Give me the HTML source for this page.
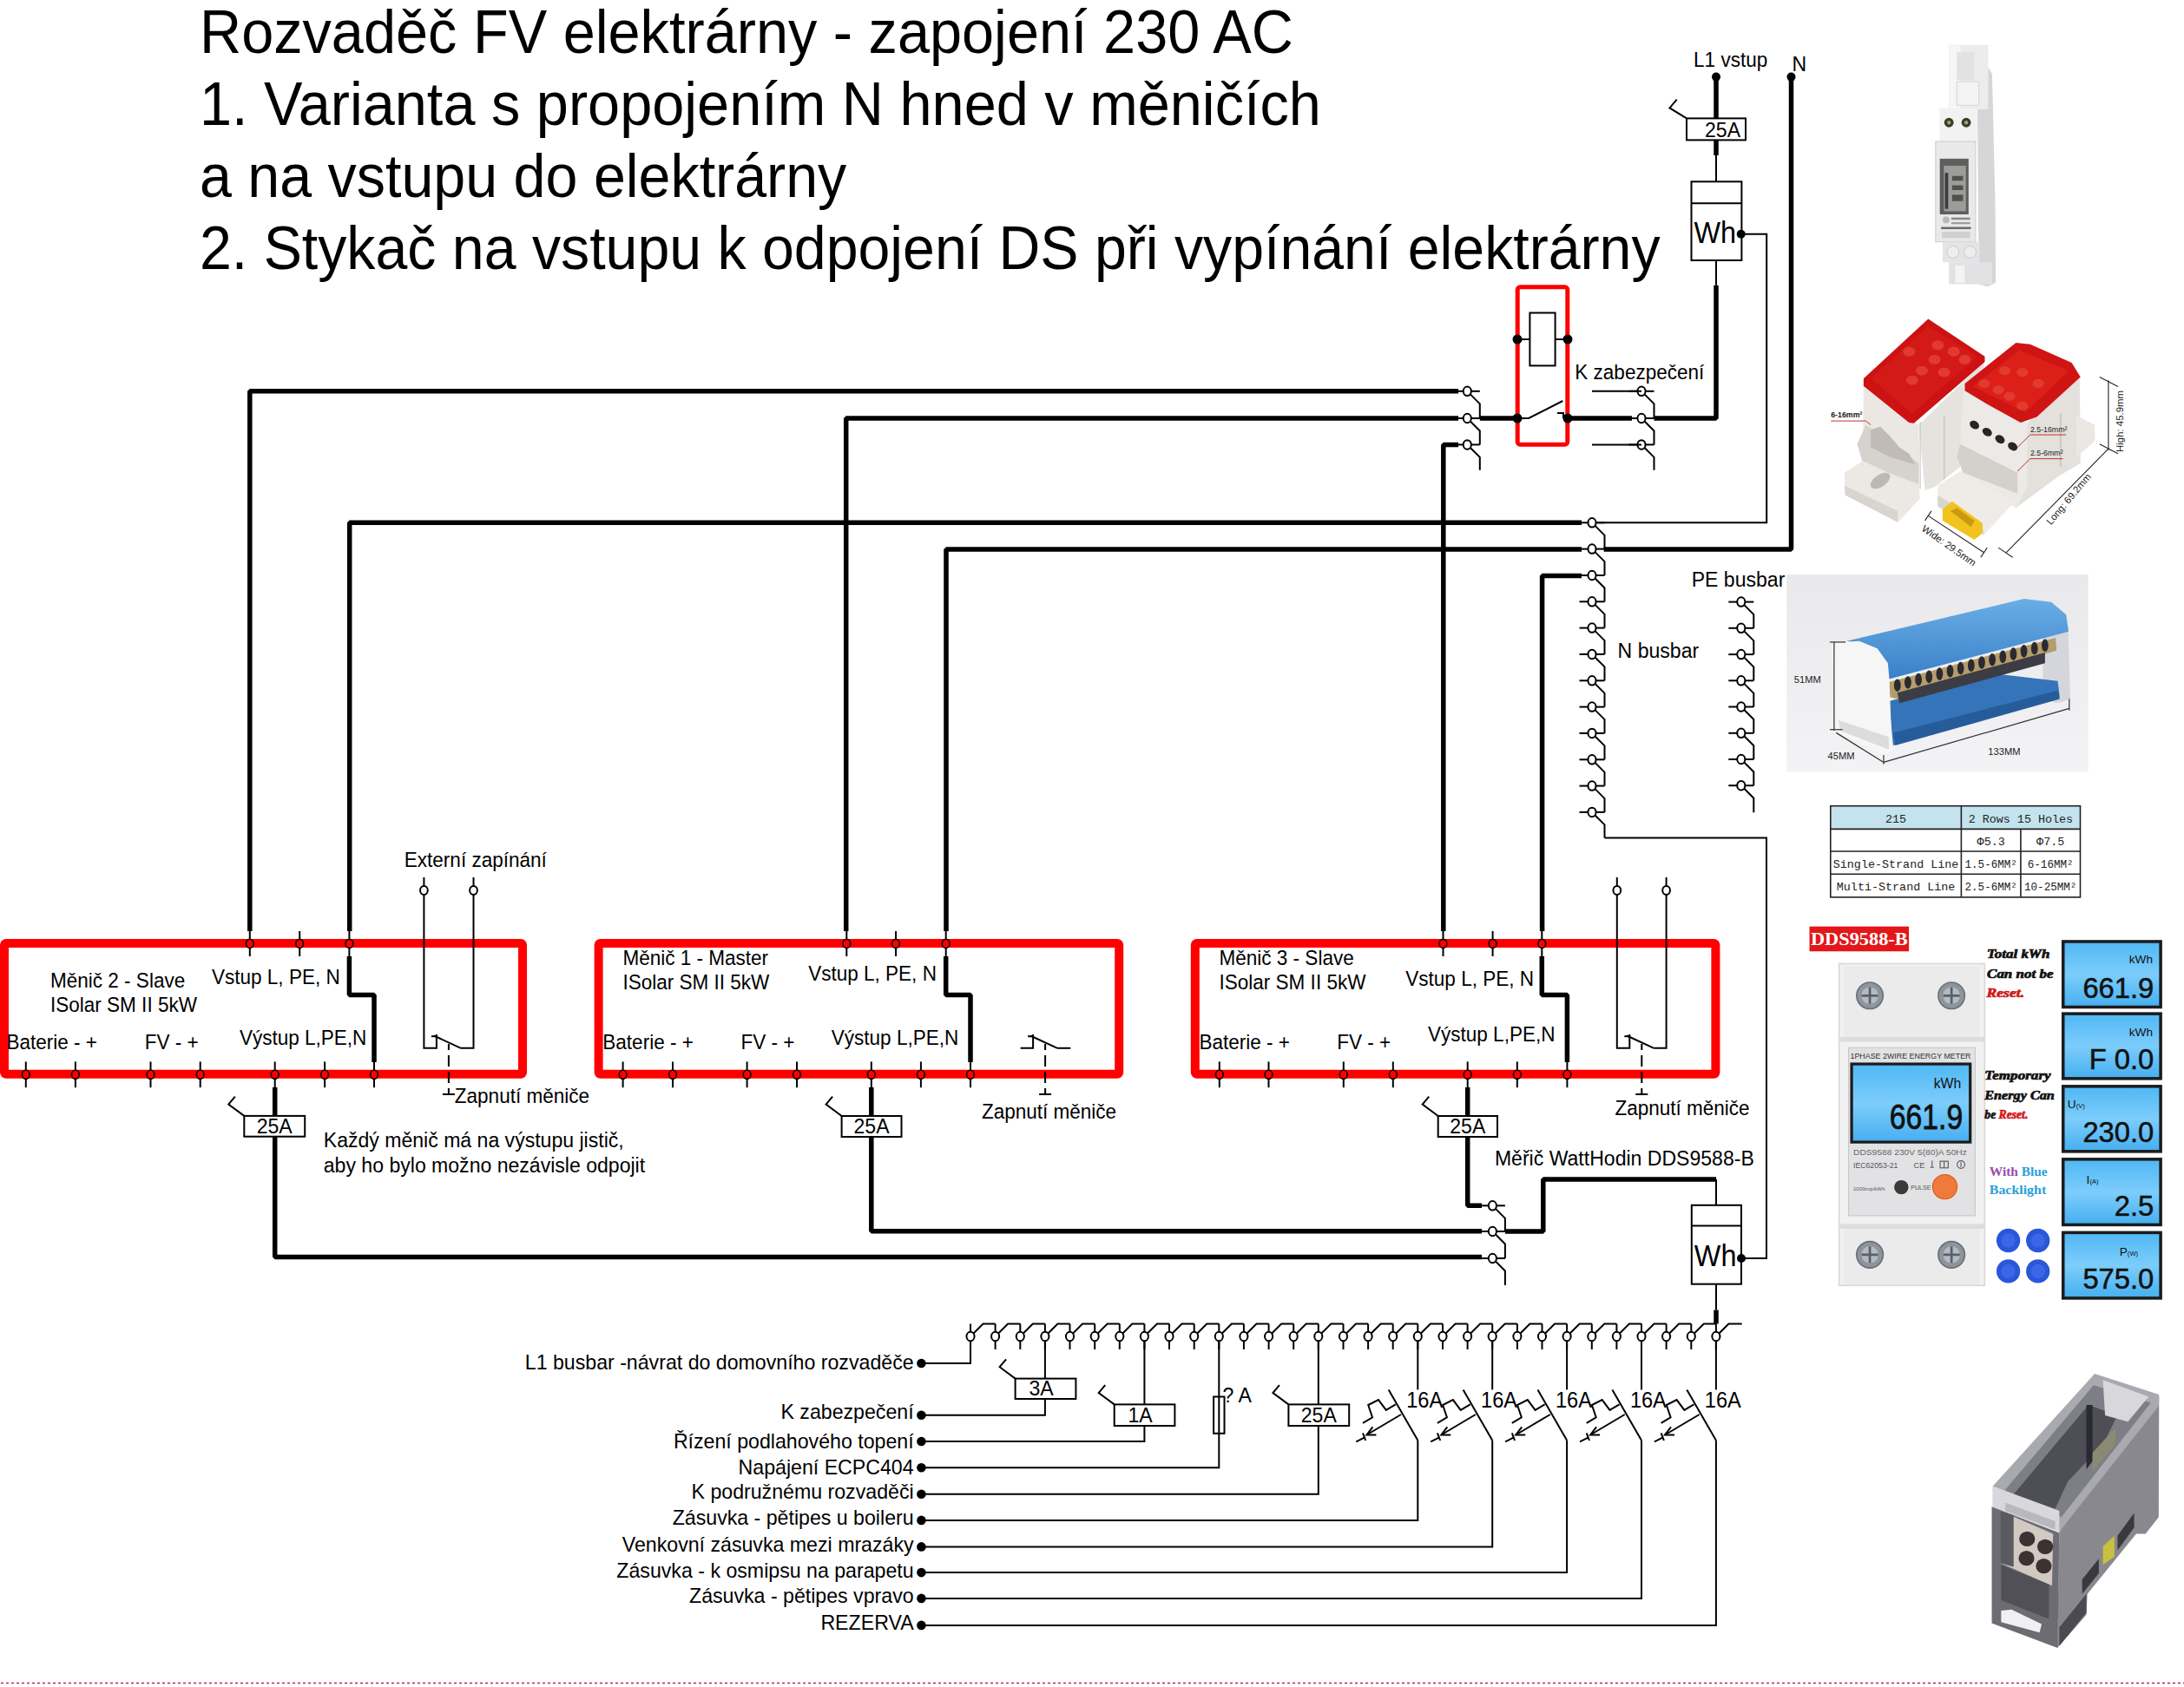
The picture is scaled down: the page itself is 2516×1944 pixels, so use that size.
<!DOCTYPE html>
<html><head><meta charset="utf-8">
<style>
html,body{margin:0;padding:0;background:#fff;width:2516px;height:1944px;overflow:hidden}
svg{display:block}
text{font-family:"Liberation Sans",sans-serif}
.ser{font-family:"Liberation Serif",serif}
.mono{font-family:"Liberation Mono",monospace}
</style></head><body>
<svg width="2516" height="1944" viewBox="0 0 2516 1944">
<rect width="2516" height="1944" fill="#fff"/>
<text transform="translate(230.0,60.9) scale(0.939,1)" font-size="71.00" text-anchor="start" class="s" >Rozvaděč FV elektrárny - zapojení 230 AC</text>
<text transform="translate(230.0,144.0) scale(0.939,1)" font-size="71.00" text-anchor="start" class="s" >1. Varianta s propojením N hned v měničích</text>
<text transform="translate(230.0,227.1) scale(0.935,1)" font-size="71.00" text-anchor="start" class="s" >a na vstupu do elektrárny</text>
<text transform="translate(230.0,310.0) scale(0.933,1)" font-size="71.00" text-anchor="start" class="s" >2. Stykač na vstupu k odpojení DS při vypínání elektrárny</text>
<polyline points="287.8,1073.0 287.8,450.8 1680.0,450.8" fill="none" stroke="#000" stroke-width="5.5" stroke-linejoin="bevel" stroke-linecap="butt"/>
<polyline points="974.7,1073.0 974.7,482.0 1680.0,482.0" fill="none" stroke="#000" stroke-width="5.5" stroke-linejoin="bevel" stroke-linecap="butt"/>
<polyline points="1662.8,1073.0 1662.8,512.4 1680.0,512.4" fill="none" stroke="#000" stroke-width="5.5" stroke-linejoin="bevel" stroke-linecap="butt"/>
<polyline points="402.7,1073.0 402.7,602.3 1822.0,602.3" fill="none" stroke="#000" stroke-width="5.5" stroke-linejoin="bevel" stroke-linecap="butt"/>
<polyline points="1090.0,1073.0 1090.0,633.0 1822.0,633.0" fill="none" stroke="#000" stroke-width="5.5" stroke-linejoin="bevel" stroke-linecap="butt"/>
<polyline points="1776.6,1073.0 1776.6,663.5 1822.0,663.5" fill="none" stroke="#000" stroke-width="5.5" stroke-linejoin="bevel" stroke-linecap="butt"/>
<polyline points="1704.8,482.0 1748.0,482.0" fill="none" stroke="#000" stroke-width="5.5" stroke-linejoin="bevel" stroke-linecap="butt"/>
<polyline points="1805.8,482.0 1880.0,482.0" fill="none" stroke="#000" stroke-width="5.5" stroke-linejoin="bevel" stroke-linecap="butt"/>
<polyline points="1905.5,482.0 1977.0,482.0 1977.0,328.8" fill="none" stroke="#000" stroke-width="5.5" stroke-linejoin="bevel" stroke-linecap="butt"/>
<polyline points="1977.0,88.6 1977.0,179.0" fill="none" stroke="#000" stroke-width="5.5" stroke-linejoin="bevel" stroke-linecap="butt"/>
<line x1="1977.0" y1="179.0" x2="1977.0" y2="209.3" stroke="#000" stroke-width="2.0" />
<line x1="1977.0" y1="300.0" x2="1977.0" y2="328.8" stroke="#000" stroke-width="2.0" />
<polyline points="2063.5,88.6 2063.5,633.0 1847.7,633.0" fill="none" stroke="#000" stroke-width="5.5" stroke-linejoin="bevel" stroke-linecap="butt"/>
<polyline points="2005.7,269.8 2035.2,269.8 2035.2,602.3 1838.0,602.3" fill="none" stroke="#000" stroke-width="2.0" stroke-linejoin="miter" />
<polyline points="1848.5,965.4 2035.0,965.4 2035.0,1450.0 2006.0,1450.0" fill="none" stroke="#000" stroke-width="2.0" stroke-linejoin="miter" />
<line x1="1675.8" y1="450.8" x2="1690.3" y2="450.8" stroke="#000" stroke-width="2.0" />
<line x1="1690.3" y1="450.8" x2="1704.8" y2="450.8" stroke="#000" stroke-width="2.0" />
<polyline points="1693.6,454.1 1704.8,465.3 1704.8,482.0" fill="none" stroke="#000" stroke-width="2.0" stroke-linejoin="miter" />
<line x1="1675.8" y1="482.0" x2="1690.3" y2="482.0" stroke="#000" stroke-width="2.0" />
<line x1="1690.3" y1="482.0" x2="1704.8" y2="482.0" stroke="#000" stroke-width="2.0" />
<polyline points="1693.6,485.3 1704.8,496.5 1704.8,512.4" fill="none" stroke="#000" stroke-width="2.0" stroke-linejoin="miter" />
<line x1="1675.8" y1="512.4" x2="1690.3" y2="512.4" stroke="#000" stroke-width="2.0" />
<line x1="1690.3" y1="512.4" x2="1704.8" y2="512.4" stroke="#000" stroke-width="2.0" />
<polyline points="1693.6,515.7 1704.8,526.9 1704.8,541.8" fill="none" stroke="#000" stroke-width="2.0" stroke-linejoin="miter" />
<ellipse cx="1690.3" cy="450.8" rx="4.56" ry="5.26" fill="#fff" stroke="#000" stroke-width="2.0"/>
<ellipse cx="1690.3" cy="482.0" rx="4.56" ry="5.26" fill="#fff" stroke="#000" stroke-width="2.0"/>
<ellipse cx="1690.3" cy="512.4" rx="4.56" ry="5.26" fill="#fff" stroke="#000" stroke-width="2.0"/>
<line x1="1876.5" y1="450.8" x2="1891.0" y2="450.8" stroke="#000" stroke-width="2.0" />
<line x1="1891.0" y1="450.8" x2="1905.5" y2="450.8" stroke="#000" stroke-width="2.0" />
<polyline points="1894.3,454.1 1905.5,465.3 1905.5,482.0" fill="none" stroke="#000" stroke-width="2.0" stroke-linejoin="miter" />
<line x1="1876.5" y1="482.0" x2="1891.0" y2="482.0" stroke="#000" stroke-width="2.0" />
<line x1="1891.0" y1="482.0" x2="1905.5" y2="482.0" stroke="#000" stroke-width="2.0" />
<polyline points="1894.3,485.3 1905.5,496.5 1905.5,512.4" fill="none" stroke="#000" stroke-width="2.0" stroke-linejoin="miter" />
<line x1="1876.5" y1="512.4" x2="1891.0" y2="512.4" stroke="#000" stroke-width="2.0" />
<line x1="1891.0" y1="512.4" x2="1905.5" y2="512.4" stroke="#000" stroke-width="2.0" />
<polyline points="1894.3,515.7 1905.5,526.9 1905.5,541.8" fill="none" stroke="#000" stroke-width="2.0" stroke-linejoin="miter" />
<ellipse cx="1891.0" cy="450.8" rx="4.56" ry="5.26" fill="#fff" stroke="#000" stroke-width="2.0"/>
<ellipse cx="1891.0" cy="482.0" rx="4.56" ry="5.26" fill="#fff" stroke="#000" stroke-width="2.0"/>
<ellipse cx="1891.0" cy="512.4" rx="4.56" ry="5.26" fill="#fff" stroke="#000" stroke-width="2.0"/>
<line x1="1819.5" y1="602.3" x2="1834.0" y2="602.3" stroke="#000" stroke-width="2.0" />
<line x1="1834.0" y1="602.3" x2="1848.5" y2="602.3" stroke="#000" stroke-width="2.0" />
<polyline points="1837.3,605.6 1848.5,616.8 1848.5,632.6" fill="none" stroke="#000" stroke-width="2.0" stroke-linejoin="miter" />
<line x1="1819.5" y1="632.6" x2="1834.0" y2="632.6" stroke="#000" stroke-width="2.0" />
<line x1="1834.0" y1="632.6" x2="1848.5" y2="632.6" stroke="#000" stroke-width="2.0" />
<polyline points="1837.3,635.9 1848.5,647.1 1848.5,663.0" fill="none" stroke="#000" stroke-width="2.0" stroke-linejoin="miter" />
<line x1="1819.5" y1="663.0" x2="1834.0" y2="663.0" stroke="#000" stroke-width="2.0" />
<line x1="1834.0" y1="663.0" x2="1848.5" y2="663.0" stroke="#000" stroke-width="2.0" />
<polyline points="1837.3,666.3 1848.5,677.5 1848.5,693.3" fill="none" stroke="#000" stroke-width="2.0" stroke-linejoin="miter" />
<line x1="1819.5" y1="693.3" x2="1834.0" y2="693.3" stroke="#000" stroke-width="2.0" />
<line x1="1834.0" y1="693.3" x2="1848.5" y2="693.3" stroke="#000" stroke-width="2.0" />
<polyline points="1837.3,696.6 1848.5,707.8 1848.5,723.6" fill="none" stroke="#000" stroke-width="2.0" stroke-linejoin="miter" />
<line x1="1819.5" y1="723.6" x2="1834.0" y2="723.6" stroke="#000" stroke-width="2.0" />
<line x1="1834.0" y1="723.6" x2="1848.5" y2="723.6" stroke="#000" stroke-width="2.0" />
<polyline points="1837.3,726.9 1848.5,738.1 1848.5,753.9" fill="none" stroke="#000" stroke-width="2.0" stroke-linejoin="miter" />
<line x1="1819.5" y1="753.9" x2="1834.0" y2="753.9" stroke="#000" stroke-width="2.0" />
<line x1="1834.0" y1="753.9" x2="1848.5" y2="753.9" stroke="#000" stroke-width="2.0" />
<polyline points="1837.3,757.2 1848.5,768.4 1848.5,784.3" fill="none" stroke="#000" stroke-width="2.0" stroke-linejoin="miter" />
<line x1="1819.5" y1="784.3" x2="1834.0" y2="784.3" stroke="#000" stroke-width="2.0" />
<line x1="1834.0" y1="784.3" x2="1848.5" y2="784.3" stroke="#000" stroke-width="2.0" />
<polyline points="1837.3,787.6 1848.5,798.8 1848.5,814.6" fill="none" stroke="#000" stroke-width="2.0" stroke-linejoin="miter" />
<line x1="1819.5" y1="814.6" x2="1834.0" y2="814.6" stroke="#000" stroke-width="2.0" />
<line x1="1834.0" y1="814.6" x2="1848.5" y2="814.6" stroke="#000" stroke-width="2.0" />
<polyline points="1837.3,817.9 1848.5,829.1 1848.5,844.9" fill="none" stroke="#000" stroke-width="2.0" stroke-linejoin="miter" />
<line x1="1819.5" y1="844.9" x2="1834.0" y2="844.9" stroke="#000" stroke-width="2.0" />
<line x1="1834.0" y1="844.9" x2="1848.5" y2="844.9" stroke="#000" stroke-width="2.0" />
<polyline points="1837.3,848.2 1848.5,859.4 1848.5,875.3" fill="none" stroke="#000" stroke-width="2.0" stroke-linejoin="miter" />
<line x1="1819.5" y1="875.3" x2="1834.0" y2="875.3" stroke="#000" stroke-width="2.0" />
<line x1="1834.0" y1="875.3" x2="1848.5" y2="875.3" stroke="#000" stroke-width="2.0" />
<polyline points="1837.3,878.6 1848.5,889.8 1848.5,905.6" fill="none" stroke="#000" stroke-width="2.0" stroke-linejoin="miter" />
<line x1="1819.5" y1="905.6" x2="1834.0" y2="905.6" stroke="#000" stroke-width="2.0" />
<line x1="1834.0" y1="905.6" x2="1848.5" y2="905.6" stroke="#000" stroke-width="2.0" />
<polyline points="1837.3,908.9 1848.5,920.1 1848.5,935.9" fill="none" stroke="#000" stroke-width="2.0" stroke-linejoin="miter" />
<line x1="1819.5" y1="935.9" x2="1834.0" y2="935.9" stroke="#000" stroke-width="2.0" />
<line x1="1834.0" y1="935.9" x2="1848.5" y2="935.9" stroke="#000" stroke-width="2.0" />
<polyline points="1837.3,939.2 1848.5,950.4 1848.5,965.4" fill="none" stroke="#000" stroke-width="2.0" stroke-linejoin="miter" />
<ellipse cx="1834.0" cy="602.3" rx="4.56" ry="5.26" fill="#fff" stroke="#000" stroke-width="2.0"/>
<ellipse cx="1834.0" cy="632.6" rx="4.56" ry="5.26" fill="#fff" stroke="#000" stroke-width="2.0"/>
<ellipse cx="1834.0" cy="663.0" rx="4.56" ry="5.26" fill="#fff" stroke="#000" stroke-width="2.0"/>
<ellipse cx="1834.0" cy="693.3" rx="4.56" ry="5.26" fill="#fff" stroke="#000" stroke-width="2.0"/>
<ellipse cx="1834.0" cy="723.6" rx="4.56" ry="5.26" fill="#fff" stroke="#000" stroke-width="2.0"/>
<ellipse cx="1834.0" cy="753.9" rx="4.56" ry="5.26" fill="#fff" stroke="#000" stroke-width="2.0"/>
<ellipse cx="1834.0" cy="784.3" rx="4.56" ry="5.26" fill="#fff" stroke="#000" stroke-width="2.0"/>
<ellipse cx="1834.0" cy="814.6" rx="4.56" ry="5.26" fill="#fff" stroke="#000" stroke-width="2.0"/>
<ellipse cx="1834.0" cy="844.9" rx="4.56" ry="5.26" fill="#fff" stroke="#000" stroke-width="2.0"/>
<ellipse cx="1834.0" cy="875.3" rx="4.56" ry="5.26" fill="#fff" stroke="#000" stroke-width="2.0"/>
<ellipse cx="1834.0" cy="905.6" rx="4.56" ry="5.26" fill="#fff" stroke="#000" stroke-width="2.0"/>
<ellipse cx="1834.0" cy="935.9" rx="4.56" ry="5.26" fill="#fff" stroke="#000" stroke-width="2.0"/>
<line x1="1991.3" y1="693.6" x2="2005.8" y2="693.6" stroke="#000" stroke-width="2.0" />
<line x1="2005.8" y1="693.6" x2="2020.3" y2="693.6" stroke="#000" stroke-width="2.0" />
<polyline points="2009.1,696.9 2020.3,708.1 2020.3,723.8" fill="none" stroke="#000" stroke-width="2.0" stroke-linejoin="miter" />
<line x1="1991.3" y1="723.8" x2="2005.8" y2="723.8" stroke="#000" stroke-width="2.0" />
<line x1="2005.8" y1="723.8" x2="2020.3" y2="723.8" stroke="#000" stroke-width="2.0" />
<polyline points="2009.1,727.1 2020.3,738.3 2020.3,754.1" fill="none" stroke="#000" stroke-width="2.0" stroke-linejoin="miter" />
<line x1="1991.3" y1="754.1" x2="2005.8" y2="754.1" stroke="#000" stroke-width="2.0" />
<line x1="2005.8" y1="754.1" x2="2020.3" y2="754.1" stroke="#000" stroke-width="2.0" />
<polyline points="2009.1,757.4 2020.3,768.6 2020.3,784.3" fill="none" stroke="#000" stroke-width="2.0" stroke-linejoin="miter" />
<line x1="1991.3" y1="784.3" x2="2005.8" y2="784.3" stroke="#000" stroke-width="2.0" />
<line x1="2005.8" y1="784.3" x2="2020.3" y2="784.3" stroke="#000" stroke-width="2.0" />
<polyline points="2009.1,787.6 2020.3,798.8 2020.3,814.5" fill="none" stroke="#000" stroke-width="2.0" stroke-linejoin="miter" />
<line x1="1991.3" y1="814.5" x2="2005.8" y2="814.5" stroke="#000" stroke-width="2.0" />
<line x1="2005.8" y1="814.5" x2="2020.3" y2="814.5" stroke="#000" stroke-width="2.0" />
<polyline points="2009.1,817.8 2020.3,829.0 2020.3,844.8" fill="none" stroke="#000" stroke-width="2.0" stroke-linejoin="miter" />
<line x1="1991.3" y1="844.8" x2="2005.8" y2="844.8" stroke="#000" stroke-width="2.0" />
<line x1="2005.8" y1="844.8" x2="2020.3" y2="844.8" stroke="#000" stroke-width="2.0" />
<polyline points="2009.1,848.0 2020.3,859.2 2020.3,875.0" fill="none" stroke="#000" stroke-width="2.0" stroke-linejoin="miter" />
<line x1="1991.3" y1="875.0" x2="2005.8" y2="875.0" stroke="#000" stroke-width="2.0" />
<line x1="2005.8" y1="875.0" x2="2020.3" y2="875.0" stroke="#000" stroke-width="2.0" />
<polyline points="2009.1,878.3 2020.3,889.5 2020.3,905.2" fill="none" stroke="#000" stroke-width="2.0" stroke-linejoin="miter" />
<line x1="1991.3" y1="905.2" x2="2005.8" y2="905.2" stroke="#000" stroke-width="2.0" />
<line x1="2005.8" y1="905.2" x2="2020.3" y2="905.2" stroke="#000" stroke-width="2.0" />
<polyline points="2009.1,908.5 2020.3,919.7 2020.3,936.3" fill="none" stroke="#000" stroke-width="2.0" stroke-linejoin="miter" />
<ellipse cx="2005.8" cy="693.6" rx="4.56" ry="5.26" fill="#fff" stroke="#000" stroke-width="2.0"/>
<ellipse cx="2005.8" cy="723.8" rx="4.56" ry="5.26" fill="#fff" stroke="#000" stroke-width="2.0"/>
<ellipse cx="2005.8" cy="754.1" rx="4.56" ry="5.26" fill="#fff" stroke="#000" stroke-width="2.0"/>
<ellipse cx="2005.8" cy="784.3" rx="4.56" ry="5.26" fill="#fff" stroke="#000" stroke-width="2.0"/>
<ellipse cx="2005.8" cy="814.5" rx="4.56" ry="5.26" fill="#fff" stroke="#000" stroke-width="2.0"/>
<ellipse cx="2005.8" cy="844.8" rx="4.56" ry="5.26" fill="#fff" stroke="#000" stroke-width="2.0"/>
<ellipse cx="2005.8" cy="875.0" rx="4.56" ry="5.26" fill="#fff" stroke="#000" stroke-width="2.0"/>
<ellipse cx="2005.8" cy="905.2" rx="4.56" ry="5.26" fill="#fff" stroke="#000" stroke-width="2.0"/>
<text transform="translate(1951.1,76.6) scale(0.94,1)" font-size="23.97" text-anchor="start" class="s" >L1 vstup</text>
<text transform="translate(2064.5,82.2) scale(0.94,1)" font-size="24.53" text-anchor="start" class="s" >N</text>
<circle cx="1977.0" cy="88.6" r="5" fill="#000"/>
<circle cx="2063.5" cy="88.6" r="5" fill="#000"/>
<rect x="1943.0" y="136.4" width="68.0" height="25.0" stroke="#000" stroke-width="2.0" fill="#fff" />
<text transform="translate(1984.5,157.5) scale(0.94,1)" font-size="24.53" text-anchor="middle" class="s" >25A</text>
<polyline points="1943.0,136.4 1923.5,124.4 1931.7,114.7" fill="none" stroke="#000" stroke-width="2.0" stroke-linejoin="miter" />
<rect x="1948.5" y="209.3" width="57.9" height="90.7" stroke="#000" stroke-width="2.0" fill="#fff" />
<line x1="1948.5" y1="234.3" x2="2006.4" y2="234.3" stroke="#000" stroke-width="2.0" />
<text transform="translate(1951.5,279.5) scale(0.94,1)" font-size="34.50" text-anchor="start" class="s" >Wh</text>
<circle cx="2005.7" cy="269.8" r="5" fill="#000"/>
<rect x="1748.2" y="330.8" width="57.6" height="181.4" stroke="#ff0000" stroke-width="5" fill="none" rx="3"/>
<rect x="1762.4" y="360.5" width="29.2" height="60.9" stroke="#000" stroke-width="2.0" fill="none" />
<line x1="1748.0" y1="391.0" x2="1762.4" y2="391.0" stroke="#000" stroke-width="2.0" />
<line x1="1791.6" y1="391.0" x2="1806.0" y2="391.0" stroke="#000" stroke-width="2.0" />
<circle cx="1748.0" cy="391.0" r="5.5" fill="#000"/>
<circle cx="1806.0" cy="391.0" r="5.5" fill="#000"/>
<polyline points="1748.0,482.0 1761.0,482.0 1800.3,462.0" fill="none" stroke="#000" stroke-width="2.0" stroke-linejoin="miter" />
<polyline points="1794.0,476.0 1801.0,476.0 1801.0,482.0" fill="none" stroke="#000" stroke-width="2.0" stroke-linejoin="miter" />
<circle cx="1748.0" cy="482.0" r="5.5" fill="#000"/>
<circle cx="1806.0" cy="482.0" r="5.5" fill="#000"/>
<text transform="translate(1814.3,437.2) scale(0.94,1)" font-size="23.97" text-anchor="start" class="s" >K zabezpečení</text>
<line x1="1834.0" y1="450.8" x2="1891.0" y2="450.8" stroke="#000" stroke-width="2.0" />
<line x1="1834.0" y1="512.4" x2="1891.0" y2="512.4" stroke="#000" stroke-width="2.0" />
<text transform="translate(1948.7,675.9) scale(0.94,1)" font-size="24.53" text-anchor="start" class="s" >PE busbar</text>
<text transform="translate(1863.6,758.3) scale(0.94,1)" font-size="24.53" text-anchor="start" class="s" >N busbar</text>
<rect x="5.0" y="1087.0" width="597.0" height="150.8" stroke="#ff0000" stroke-width="10" fill="none" rx="2"/>
<polyline points="402.4,1102.0 402.4,1146.5 431.0,1146.5 431.0,1224.0" fill="none" stroke="#000" stroke-width="5.5" stroke-linejoin="bevel" stroke-linecap="butt"/>
<line x1="287.8" y1="1073.0" x2="287.8" y2="1102.0" stroke="#000" stroke-width="2.0" />
<ellipse cx="287.8" cy="1087.4" rx="4.37" ry="5.04" fill="#ff0000" stroke="#000" stroke-width="1.6"/>
<line x1="345.2" y1="1073.0" x2="345.2" y2="1102.0" stroke="#000" stroke-width="2.0" />
<ellipse cx="345.2" cy="1087.4" rx="4.37" ry="5.04" fill="#ff0000" stroke="#000" stroke-width="1.6"/>
<line x1="402.4" y1="1073.0" x2="402.4" y2="1102.0" stroke="#000" stroke-width="2.0" />
<ellipse cx="402.4" cy="1087.4" rx="4.37" ry="5.04" fill="#ff0000" stroke="#000" stroke-width="1.6"/>
<line x1="29.8" y1="1223.4" x2="29.8" y2="1253.2" stroke="#000" stroke-width="2.0" />
<ellipse cx="29.8" cy="1238.3" rx="4.37" ry="5.04" fill="#ff0000" stroke="#000" stroke-width="1.6"/>
<line x1="86.9" y1="1223.4" x2="86.9" y2="1253.2" stroke="#000" stroke-width="2.0" />
<ellipse cx="86.9" cy="1238.3" rx="4.37" ry="5.04" fill="#ff0000" stroke="#000" stroke-width="1.6"/>
<line x1="173.5" y1="1223.4" x2="173.5" y2="1253.2" stroke="#000" stroke-width="2.0" />
<ellipse cx="173.5" cy="1238.3" rx="4.37" ry="5.04" fill="#ff0000" stroke="#000" stroke-width="1.6"/>
<line x1="230.7" y1="1223.4" x2="230.7" y2="1253.2" stroke="#000" stroke-width="2.0" />
<ellipse cx="230.7" cy="1238.3" rx="4.37" ry="5.04" fill="#ff0000" stroke="#000" stroke-width="1.6"/>
<line x1="316.7" y1="1223.4" x2="316.7" y2="1253.2" stroke="#000" stroke-width="2.0" />
<ellipse cx="316.7" cy="1238.3" rx="4.37" ry="5.04" fill="#ff0000" stroke="#000" stroke-width="1.6"/>
<line x1="374.1" y1="1223.4" x2="374.1" y2="1253.2" stroke="#000" stroke-width="2.0" />
<ellipse cx="374.1" cy="1238.3" rx="4.37" ry="5.04" fill="#ff0000" stroke="#000" stroke-width="1.6"/>
<line x1="431.0" y1="1223.4" x2="431.0" y2="1253.2" stroke="#000" stroke-width="2.0" />
<ellipse cx="431.0" cy="1238.3" rx="4.37" ry="5.04" fill="#ff0000" stroke="#000" stroke-width="1.6"/>
<text transform="translate(58.0,1137.7) scale(0.94,1)" font-size="23.97" text-anchor="start" class="s" >Měnič 2 - Slave</text>
<text transform="translate(58.0,1166.3) scale(0.94,1)" font-size="23.97" text-anchor="start" class="s" >ISolar SM II 5kW</text>
<text transform="translate(244.0,1134.1) scale(0.94,1)" font-size="23.97" text-anchor="start" class="s" >Vstup L, PE, N</text>
<text transform="translate(7.4,1209.4) scale(0.94,1)" font-size="23.97" text-anchor="start" class="s" >Baterie - +</text>
<text transform="translate(166.7,1209.4) scale(0.94,1)" font-size="23.97" text-anchor="start" class="s" >FV - +</text>
<text transform="translate(275.9,1203.5) scale(0.94,1)" font-size="23.97" text-anchor="start" class="s" >Výstup L,PE,N</text>
<rect x="689.6" y="1087.0" width="599.6" height="150.8" stroke="#ff0000" stroke-width="10" fill="none" rx="2"/>
<polyline points="1089.7,1102.0 1089.7,1146.5 1118.0,1146.5 1118.0,1224.0" fill="none" stroke="#000" stroke-width="5.5" stroke-linejoin="bevel" stroke-linecap="butt"/>
<line x1="975.3" y1="1073.0" x2="975.3" y2="1102.0" stroke="#000" stroke-width="2.0" />
<ellipse cx="975.3" cy="1087.4" rx="4.37" ry="5.04" fill="#ff0000" stroke="#000" stroke-width="1.6"/>
<line x1="1032.0" y1="1073.0" x2="1032.0" y2="1102.0" stroke="#000" stroke-width="2.0" />
<ellipse cx="1032.0" cy="1087.4" rx="4.37" ry="5.04" fill="#ff0000" stroke="#000" stroke-width="1.6"/>
<line x1="1089.7" y1="1073.0" x2="1089.7" y2="1102.0" stroke="#000" stroke-width="2.0" />
<ellipse cx="1089.7" cy="1087.4" rx="4.37" ry="5.04" fill="#ff0000" stroke="#000" stroke-width="1.6"/>
<line x1="717.6" y1="1223.4" x2="717.6" y2="1253.2" stroke="#000" stroke-width="2.0" />
<ellipse cx="717.6" cy="1238.3" rx="4.37" ry="5.04" fill="#ff0000" stroke="#000" stroke-width="1.6"/>
<line x1="775.0" y1="1223.4" x2="775.0" y2="1253.2" stroke="#000" stroke-width="2.0" />
<ellipse cx="775.0" cy="1238.3" rx="4.37" ry="5.04" fill="#ff0000" stroke="#000" stroke-width="1.6"/>
<line x1="860.6" y1="1223.4" x2="860.6" y2="1253.2" stroke="#000" stroke-width="2.0" />
<ellipse cx="860.6" cy="1238.3" rx="4.37" ry="5.04" fill="#ff0000" stroke="#000" stroke-width="1.6"/>
<line x1="918.0" y1="1223.4" x2="918.0" y2="1253.2" stroke="#000" stroke-width="2.0" />
<ellipse cx="918.0" cy="1238.3" rx="4.37" ry="5.04" fill="#ff0000" stroke="#000" stroke-width="1.6"/>
<line x1="1003.8" y1="1223.4" x2="1003.8" y2="1253.2" stroke="#000" stroke-width="2.0" />
<ellipse cx="1003.8" cy="1238.3" rx="4.37" ry="5.04" fill="#ff0000" stroke="#000" stroke-width="1.6"/>
<line x1="1060.9" y1="1223.4" x2="1060.9" y2="1253.2" stroke="#000" stroke-width="2.0" />
<ellipse cx="1060.9" cy="1238.3" rx="4.37" ry="5.04" fill="#ff0000" stroke="#000" stroke-width="1.6"/>
<line x1="1118.0" y1="1223.4" x2="1118.0" y2="1253.2" stroke="#000" stroke-width="2.0" />
<ellipse cx="1118.0" cy="1238.3" rx="4.37" ry="5.04" fill="#ff0000" stroke="#000" stroke-width="1.6"/>
<text transform="translate(717.4,1111.6) scale(0.94,1)" font-size="23.97" text-anchor="start" class="s" >Měnič 1 - Master</text>
<text transform="translate(717.4,1140.4) scale(0.94,1)" font-size="23.97" text-anchor="start" class="s" >ISolar SM II 5kW</text>
<text transform="translate(931.2,1129.9) scale(0.94,1)" font-size="23.97" text-anchor="start" class="s" >Vstup L, PE, N</text>
<text transform="translate(694.3,1209.4) scale(0.94,1)" font-size="23.97" text-anchor="start" class="s" >Baterie - +</text>
<text transform="translate(853.5,1209.4) scale(0.94,1)" font-size="23.97" text-anchor="start" class="s" >FV - +</text>
<text transform="translate(957.8,1203.6) scale(0.94,1)" font-size="23.97" text-anchor="start" class="s" >Výstup L,PE,N</text>
<rect x="1376.8" y="1087.0" width="599.6" height="150.8" stroke="#ff0000" stroke-width="10" fill="none" rx="2"/>
<polyline points="1776.3,1102.0 1776.3,1146.5 1805.4,1146.5 1805.4,1224.0" fill="none" stroke="#000" stroke-width="5.5" stroke-linejoin="bevel" stroke-linecap="butt"/>
<line x1="1662.5" y1="1073.0" x2="1662.5" y2="1102.0" stroke="#000" stroke-width="2.0" />
<ellipse cx="1662.5" cy="1087.4" rx="4.37" ry="5.04" fill="#ff0000" stroke="#000" stroke-width="1.6"/>
<line x1="1719.6" y1="1073.0" x2="1719.6" y2="1102.0" stroke="#000" stroke-width="2.0" />
<ellipse cx="1719.6" cy="1087.4" rx="4.37" ry="5.04" fill="#ff0000" stroke="#000" stroke-width="1.6"/>
<line x1="1776.3" y1="1073.0" x2="1776.3" y2="1102.0" stroke="#000" stroke-width="2.0" />
<ellipse cx="1776.3" cy="1087.4" rx="4.37" ry="5.04" fill="#ff0000" stroke="#000" stroke-width="1.6"/>
<line x1="1404.8" y1="1223.4" x2="1404.8" y2="1253.2" stroke="#000" stroke-width="2.0" />
<ellipse cx="1404.8" cy="1238.3" rx="4.37" ry="5.04" fill="#ff0000" stroke="#000" stroke-width="1.6"/>
<line x1="1461.5" y1="1223.4" x2="1461.5" y2="1253.2" stroke="#000" stroke-width="2.0" />
<ellipse cx="1461.5" cy="1238.3" rx="4.37" ry="5.04" fill="#ff0000" stroke="#000" stroke-width="1.6"/>
<line x1="1547.8" y1="1223.4" x2="1547.8" y2="1253.2" stroke="#000" stroke-width="2.0" />
<ellipse cx="1547.8" cy="1238.3" rx="4.37" ry="5.04" fill="#ff0000" stroke="#000" stroke-width="1.6"/>
<line x1="1604.8" y1="1223.4" x2="1604.8" y2="1253.2" stroke="#000" stroke-width="2.0" />
<ellipse cx="1604.8" cy="1238.3" rx="4.37" ry="5.04" fill="#ff0000" stroke="#000" stroke-width="1.6"/>
<line x1="1690.7" y1="1223.4" x2="1690.7" y2="1253.2" stroke="#000" stroke-width="2.0" />
<ellipse cx="1690.7" cy="1238.3" rx="4.37" ry="5.04" fill="#ff0000" stroke="#000" stroke-width="1.6"/>
<line x1="1747.8" y1="1223.4" x2="1747.8" y2="1253.2" stroke="#000" stroke-width="2.0" />
<ellipse cx="1747.8" cy="1238.3" rx="4.37" ry="5.04" fill="#ff0000" stroke="#000" stroke-width="1.6"/>
<line x1="1805.4" y1="1223.4" x2="1805.4" y2="1253.2" stroke="#000" stroke-width="2.0" />
<ellipse cx="1805.4" cy="1238.3" rx="4.37" ry="5.04" fill="#ff0000" stroke="#000" stroke-width="1.6"/>
<text transform="translate(1404.5,1111.6) scale(0.94,1)" font-size="23.97" text-anchor="start" class="s" >Měnič 3 - Slave</text>
<text transform="translate(1404.5,1140.4) scale(0.94,1)" font-size="23.97" text-anchor="start" class="s" >ISolar SM II 5kW</text>
<text transform="translate(1619.3,1135.6) scale(0.94,1)" font-size="23.97" text-anchor="start" class="s" >Vstup L, PE, N</text>
<text transform="translate(1381.5,1209.4) scale(0.94,1)" font-size="23.97" text-anchor="start" class="s" >Baterie - +</text>
<text transform="translate(1540.2,1209.4) scale(0.94,1)" font-size="23.97" text-anchor="start" class="s" >FV - +</text>
<text transform="translate(1645.0,1200.4) scale(0.94,1)" font-size="23.97" text-anchor="start" class="s" >Výstup L,PE,N</text>
<line x1="488.4" y1="1011.0" x2="488.4" y2="1021.0" stroke="#000" stroke-width="2.0" />
<line x1="545.5" y1="1011.0" x2="545.5" y2="1021.0" stroke="#000" stroke-width="2.0" />
<polyline points="488.4,1030.5 488.4,1207.8 502.9,1207.8 502.9,1195.0" fill="none" stroke="#000" stroke-width="2.0" stroke-linejoin="miter" />
<polyline points="530.9,1207.8 545.5,1207.8 545.5,1030.5" fill="none" stroke="#000" stroke-width="2.0" stroke-linejoin="miter" />
<ellipse cx="488.4" cy="1026.0" rx="4.37" ry="5.04" fill="#fff" stroke="#000" stroke-width="2.0"/>
<ellipse cx="545.5" cy="1026.0" rx="4.37" ry="5.04" fill="#fff" stroke="#000" stroke-width="2.0"/>
<line x1="499.9" y1="1193.5" x2="530.9" y2="1207.8" stroke="#000" stroke-width="2.0" />
<line x1="496.9" y1="1194.2" x2="502.9" y2="1194.2" stroke="#000" stroke-width="2.0" />
<line x1="502.9" y1="1192.0" x2="502.9" y2="1196.0" stroke="#000" stroke-width="2.0" />
<line x1="516.9" y1="1203.0" x2="516.9" y2="1261.0" stroke="#000" stroke-width="2.0" stroke-dasharray="7,6,13,6,13,6"/>
<line x1="509.9" y1="1261.0" x2="523.9" y2="1261.0" stroke="#000" stroke-width="2.0" />
<polyline points="1175.6,1207.8 1190.1,1207.8 1190.1,1195.0" fill="none" stroke="#000" stroke-width="2.0" stroke-linejoin="miter" />
<polyline points="1218.1,1207.8 1233.3,1207.8" fill="none" stroke="#000" stroke-width="2.0" stroke-linejoin="miter" />
<line x1="1187.1" y1="1193.5" x2="1218.1" y2="1207.8" stroke="#000" stroke-width="2.0" />
<line x1="1184.1" y1="1194.2" x2="1190.1" y2="1194.2" stroke="#000" stroke-width="2.0" />
<line x1="1190.1" y1="1192.0" x2="1190.1" y2="1196.0" stroke="#000" stroke-width="2.0" />
<line x1="1204.1" y1="1203.0" x2="1204.1" y2="1261.0" stroke="#000" stroke-width="2.0" stroke-dasharray="7,6,13,6,13,6"/>
<line x1="1197.1" y1="1261.0" x2="1211.1" y2="1261.0" stroke="#000" stroke-width="2.0" />
<line x1="1862.8" y1="1011.0" x2="1862.8" y2="1021.0" stroke="#000" stroke-width="2.0" />
<line x1="1919.6" y1="1011.0" x2="1919.6" y2="1021.0" stroke="#000" stroke-width="2.0" />
<polyline points="1862.8,1030.5 1862.8,1207.8 1877.3,1207.8 1877.3,1195.0" fill="none" stroke="#000" stroke-width="2.0" stroke-linejoin="miter" />
<polyline points="1905.3,1207.8 1919.6,1207.8 1919.6,1030.5" fill="none" stroke="#000" stroke-width="2.0" stroke-linejoin="miter" />
<ellipse cx="1862.8" cy="1026.0" rx="4.37" ry="5.04" fill="#fff" stroke="#000" stroke-width="2.0"/>
<ellipse cx="1919.6" cy="1026.0" rx="4.37" ry="5.04" fill="#fff" stroke="#000" stroke-width="2.0"/>
<line x1="1874.3" y1="1193.5" x2="1905.3" y2="1207.8" stroke="#000" stroke-width="2.0" />
<line x1="1871.3" y1="1194.2" x2="1877.3" y2="1194.2" stroke="#000" stroke-width="2.0" />
<line x1="1877.3" y1="1192.0" x2="1877.3" y2="1196.0" stroke="#000" stroke-width="2.0" />
<line x1="1891.3" y1="1203.0" x2="1891.3" y2="1261.0" stroke="#000" stroke-width="2.0" stroke-dasharray="7,6,13,6,13,6"/>
<line x1="1884.3" y1="1261.0" x2="1898.3" y2="1261.0" stroke="#000" stroke-width="2.0" />
<text transform="translate(465.8,998.7) scale(0.94,1)" font-size="23.97" text-anchor="start" class="s" >Externí zapínání</text>
<text transform="translate(523.8,1271.0) scale(0.94,1)" font-size="23.97" text-anchor="start" class="s" >Zapnutí měniče</text>
<text transform="translate(1130.9,1288.5) scale(0.94,1)" font-size="23.97" text-anchor="start" class="s" >Zapnutí měniče</text>
<text transform="translate(1860.4,1285.3) scale(0.94,1)" font-size="23.97" text-anchor="start" class="s" >Zapnutí měniče</text>
<polyline points="316.7,1253.0 316.7,1286.0" fill="none" stroke="#000" stroke-width="5.5" stroke-linejoin="bevel" stroke-linecap="butt"/>
<polyline points="316.7,1310.0 316.7,1448.4 1707.0,1448.4" fill="none" stroke="#000" stroke-width="5.5" stroke-linejoin="bevel" stroke-linecap="butt"/>
<polyline points="1003.8,1253.0 1003.8,1286.0" fill="none" stroke="#000" stroke-width="5.5" stroke-linejoin="bevel" stroke-linecap="butt"/>
<polyline points="1003.8,1310.0 1003.8,1418.8 1707.0,1418.8" fill="none" stroke="#000" stroke-width="5.5" stroke-linejoin="bevel" stroke-linecap="butt"/>
<polyline points="1690.7,1253.0 1690.7,1286.0" fill="none" stroke="#000" stroke-width="5.5" stroke-linejoin="bevel" stroke-linecap="butt"/>
<polyline points="1690.7,1310.0 1690.7,1389.3 1707.0,1389.3" fill="none" stroke="#000" stroke-width="5.5" stroke-linejoin="bevel" stroke-linecap="butt"/>
<rect x="281.3" y="1285.9" width="69.9" height="23.8" stroke="#000" stroke-width="2.0" fill="#fff" />
<polyline points="281.3,1285.9 263.3,1272.5 270.8,1263.6" fill="none" stroke="#000" stroke-width="2.0" stroke-linejoin="miter" />
<text transform="translate(316.2,1305.7) scale(0.94,1)" font-size="24.53" text-anchor="middle" class="s" >25A</text>
<rect x="969.6" y="1286.0" width="68.9" height="24.0" stroke="#000" stroke-width="2.0" fill="#fff" />
<polyline points="969.6,1286.0 951.6,1272.6 959.1,1263.7" fill="none" stroke="#000" stroke-width="2.0" stroke-linejoin="miter" />
<text transform="translate(1004.0,1306.0) scale(0.94,1)" font-size="24.53" text-anchor="middle" class="s" >25A</text>
<rect x="1656.7" y="1286.0" width="68.3" height="24.0" stroke="#000" stroke-width="2.0" fill="#fff" />
<polyline points="1656.7,1286.0 1638.7,1272.6 1646.2,1263.7" fill="none" stroke="#000" stroke-width="2.0" stroke-linejoin="miter" />
<text transform="translate(1690.8,1306.0) scale(0.94,1)" font-size="24.53" text-anchor="middle" class="s" >25A</text>
<text transform="translate(372.8,1322.3) scale(0.94,1)" font-size="24.53" text-anchor="start" class="s" >Každý měnič má na výstupu jistič,</text>
<text transform="translate(372.8,1350.8) scale(0.94,1)" font-size="24.53" text-anchor="start" class="s" >aby ho bylo možno nezávisle odpojit</text>
<text transform="translate(1721.9,1343.0) scale(0.94,1)" font-size="24.53" text-anchor="start" class="s" >Měřič WattHodin DDS9588-B</text>
<line x1="1704.9" y1="1389.3" x2="1719.4" y2="1389.3" stroke="#000" stroke-width="2.0" />
<line x1="1719.4" y1="1389.3" x2="1733.9" y2="1389.3" stroke="#000" stroke-width="2.0" />
<polyline points="1722.7,1392.6 1733.9,1403.8 1733.9,1419.0" fill="none" stroke="#000" stroke-width="2.0" stroke-linejoin="miter" />
<line x1="1704.9" y1="1419.0" x2="1719.4" y2="1419.0" stroke="#000" stroke-width="2.0" />
<line x1="1719.4" y1="1419.0" x2="1733.9" y2="1419.0" stroke="#000" stroke-width="2.0" />
<polyline points="1722.7,1422.3 1733.9,1433.5 1733.9,1450.0" fill="none" stroke="#000" stroke-width="2.0" stroke-linejoin="miter" />
<line x1="1704.9" y1="1450.0" x2="1719.4" y2="1450.0" stroke="#000" stroke-width="2.0" />
<line x1="1719.4" y1="1450.0" x2="1733.9" y2="1450.0" stroke="#000" stroke-width="2.0" />
<polyline points="1722.7,1453.3 1733.9,1464.5 1733.9,1480.9" fill="none" stroke="#000" stroke-width="2.0" stroke-linejoin="miter" />
<ellipse cx="1719.4" cy="1389.3" rx="4.56" ry="5.26" fill="#fff" stroke="#000" stroke-width="2.0"/>
<ellipse cx="1719.4" cy="1419.0" rx="4.56" ry="5.26" fill="#fff" stroke="#000" stroke-width="2.0"/>
<ellipse cx="1719.4" cy="1450.0" rx="4.56" ry="5.26" fill="#fff" stroke="#000" stroke-width="2.0"/>
<polyline points="1734.0,1419.0 1777.8,1419.0 1777.8,1359.0 1977.0,1359.0" fill="none" stroke="#000" stroke-width="5.5" stroke-linejoin="bevel" stroke-linecap="butt"/>
<line x1="1977.0" y1="1359.0" x2="1977.0" y2="1388.8" stroke="#000" stroke-width="2.0" />
<rect x="1948.8" y="1388.8" width="57.2" height="90.9" stroke="#000" stroke-width="2.0" fill="#fff" />
<line x1="1948.8" y1="1412.6" x2="2006.0" y2="1412.6" stroke="#000" stroke-width="2.0" />
<text transform="translate(1951.8,1459.2) scale(0.94,1)" font-size="34.50" text-anchor="start" class="s" >Wh</text>
<circle cx="2006.0" cy="1450.0" r="5" fill="#000"/>
<line x1="1977.0" y1="1479.7" x2="1977.0" y2="1509.5" stroke="#000" stroke-width="2.0" />
<polyline points="1977.0,1509.5 1977.0,1525.5" fill="none" stroke="#000" stroke-width="5.5" stroke-linejoin="bevel" stroke-linecap="butt"/>
<line x1="1118.0" y1="1540.0" x2="1118.0" y2="1555.0" stroke="#000" stroke-width="2.0" />
<polyline points="1121.3,1536.7 1132.5,1525.5 1146.6,1525.5" fill="none" stroke="#000" stroke-width="2.0" stroke-linejoin="miter" />
<line x1="1118.0" y1="1525.5" x2="1118.0" y2="1540.0" stroke="#000" stroke-width="2.0" />
<line x1="1146.6" y1="1540.0" x2="1146.6" y2="1555.0" stroke="#000" stroke-width="2.0" />
<polyline points="1149.9,1536.7 1161.1,1525.5 1175.3,1525.5" fill="none" stroke="#000" stroke-width="2.0" stroke-linejoin="miter" />
<line x1="1146.6" y1="1525.5" x2="1146.6" y2="1540.0" stroke="#000" stroke-width="2.0" />
<line x1="1175.3" y1="1540.0" x2="1175.3" y2="1555.0" stroke="#000" stroke-width="2.0" />
<polyline points="1178.6,1536.7 1189.8,1525.5 1203.9,1525.5" fill="none" stroke="#000" stroke-width="2.0" stroke-linejoin="miter" />
<line x1="1175.3" y1="1525.5" x2="1175.3" y2="1540.0" stroke="#000" stroke-width="2.0" />
<line x1="1203.9" y1="1540.0" x2="1203.9" y2="1555.0" stroke="#000" stroke-width="2.0" />
<polyline points="1207.2,1536.7 1218.4,1525.5 1232.5,1525.5" fill="none" stroke="#000" stroke-width="2.0" stroke-linejoin="miter" />
<line x1="1203.9" y1="1525.5" x2="1203.9" y2="1540.0" stroke="#000" stroke-width="2.0" />
<line x1="1232.5" y1="1540.0" x2="1232.5" y2="1555.0" stroke="#000" stroke-width="2.0" />
<polyline points="1235.8,1536.7 1247.0,1525.5 1261.2,1525.5" fill="none" stroke="#000" stroke-width="2.0" stroke-linejoin="miter" />
<line x1="1232.5" y1="1525.5" x2="1232.5" y2="1540.0" stroke="#000" stroke-width="2.0" />
<line x1="1261.2" y1="1540.0" x2="1261.2" y2="1555.0" stroke="#000" stroke-width="2.0" />
<polyline points="1264.5,1536.7 1275.7,1525.5 1289.8,1525.5" fill="none" stroke="#000" stroke-width="2.0" stroke-linejoin="miter" />
<line x1="1261.2" y1="1525.5" x2="1261.2" y2="1540.0" stroke="#000" stroke-width="2.0" />
<line x1="1289.8" y1="1540.0" x2="1289.8" y2="1555.0" stroke="#000" stroke-width="2.0" />
<polyline points="1293.1,1536.7 1304.3,1525.5 1318.4,1525.5" fill="none" stroke="#000" stroke-width="2.0" stroke-linejoin="miter" />
<line x1="1289.8" y1="1525.5" x2="1289.8" y2="1540.0" stroke="#000" stroke-width="2.0" />
<line x1="1318.4" y1="1540.0" x2="1318.4" y2="1555.0" stroke="#000" stroke-width="2.0" />
<polyline points="1321.7,1536.7 1332.9,1525.5 1347.0,1525.5" fill="none" stroke="#000" stroke-width="2.0" stroke-linejoin="miter" />
<line x1="1318.4" y1="1525.5" x2="1318.4" y2="1540.0" stroke="#000" stroke-width="2.0" />
<line x1="1347.0" y1="1540.0" x2="1347.0" y2="1555.0" stroke="#000" stroke-width="2.0" />
<polyline points="1350.3,1536.7 1361.5,1525.5 1375.7,1525.5" fill="none" stroke="#000" stroke-width="2.0" stroke-linejoin="miter" />
<line x1="1347.0" y1="1525.5" x2="1347.0" y2="1540.0" stroke="#000" stroke-width="2.0" />
<line x1="1375.7" y1="1540.0" x2="1375.7" y2="1555.0" stroke="#000" stroke-width="2.0" />
<polyline points="1379.0,1536.7 1390.2,1525.5 1404.3,1525.5" fill="none" stroke="#000" stroke-width="2.0" stroke-linejoin="miter" />
<line x1="1375.7" y1="1525.5" x2="1375.7" y2="1540.0" stroke="#000" stroke-width="2.0" />
<line x1="1404.3" y1="1540.0" x2="1404.3" y2="1555.0" stroke="#000" stroke-width="2.0" />
<polyline points="1407.6,1536.7 1418.8,1525.5 1432.9,1525.5" fill="none" stroke="#000" stroke-width="2.0" stroke-linejoin="miter" />
<line x1="1404.3" y1="1525.5" x2="1404.3" y2="1540.0" stroke="#000" stroke-width="2.0" />
<line x1="1432.9" y1="1540.0" x2="1432.9" y2="1555.0" stroke="#000" stroke-width="2.0" />
<polyline points="1436.2,1536.7 1447.4,1525.5 1461.6,1525.5" fill="none" stroke="#000" stroke-width="2.0" stroke-linejoin="miter" />
<line x1="1432.9" y1="1525.5" x2="1432.9" y2="1540.0" stroke="#000" stroke-width="2.0" />
<line x1="1461.6" y1="1540.0" x2="1461.6" y2="1555.0" stroke="#000" stroke-width="2.0" />
<polyline points="1464.9,1536.7 1476.1,1525.5 1490.2,1525.5" fill="none" stroke="#000" stroke-width="2.0" stroke-linejoin="miter" />
<line x1="1461.6" y1="1525.5" x2="1461.6" y2="1540.0" stroke="#000" stroke-width="2.0" />
<line x1="1490.2" y1="1540.0" x2="1490.2" y2="1555.0" stroke="#000" stroke-width="2.0" />
<polyline points="1493.5,1536.7 1504.7,1525.5 1518.8,1525.5" fill="none" stroke="#000" stroke-width="2.0" stroke-linejoin="miter" />
<line x1="1490.2" y1="1525.5" x2="1490.2" y2="1540.0" stroke="#000" stroke-width="2.0" />
<line x1="1518.8" y1="1540.0" x2="1518.8" y2="1555.0" stroke="#000" stroke-width="2.0" />
<polyline points="1522.1,1536.7 1533.3,1525.5 1547.5,1525.5" fill="none" stroke="#000" stroke-width="2.0" stroke-linejoin="miter" />
<line x1="1518.8" y1="1525.5" x2="1518.8" y2="1540.0" stroke="#000" stroke-width="2.0" />
<line x1="1547.5" y1="1540.0" x2="1547.5" y2="1555.0" stroke="#000" stroke-width="2.0" />
<polyline points="1550.8,1536.7 1562.0,1525.5 1576.1,1525.5" fill="none" stroke="#000" stroke-width="2.0" stroke-linejoin="miter" />
<line x1="1547.5" y1="1525.5" x2="1547.5" y2="1540.0" stroke="#000" stroke-width="2.0" />
<line x1="1576.1" y1="1540.0" x2="1576.1" y2="1555.0" stroke="#000" stroke-width="2.0" />
<polyline points="1579.4,1536.7 1590.6,1525.5 1604.7,1525.5" fill="none" stroke="#000" stroke-width="2.0" stroke-linejoin="miter" />
<line x1="1576.1" y1="1525.5" x2="1576.1" y2="1540.0" stroke="#000" stroke-width="2.0" />
<line x1="1604.7" y1="1540.0" x2="1604.7" y2="1555.0" stroke="#000" stroke-width="2.0" />
<polyline points="1608.0,1536.7 1619.2,1525.5 1633.3,1525.5" fill="none" stroke="#000" stroke-width="2.0" stroke-linejoin="miter" />
<line x1="1604.7" y1="1525.5" x2="1604.7" y2="1540.0" stroke="#000" stroke-width="2.0" />
<line x1="1633.3" y1="1540.0" x2="1633.3" y2="1555.0" stroke="#000" stroke-width="2.0" />
<polyline points="1636.6,1536.7 1647.8,1525.5 1662.0,1525.5" fill="none" stroke="#000" stroke-width="2.0" stroke-linejoin="miter" />
<line x1="1633.3" y1="1525.5" x2="1633.3" y2="1540.0" stroke="#000" stroke-width="2.0" />
<line x1="1662.0" y1="1540.0" x2="1662.0" y2="1555.0" stroke="#000" stroke-width="2.0" />
<polyline points="1665.3,1536.7 1676.5,1525.5 1690.6,1525.5" fill="none" stroke="#000" stroke-width="2.0" stroke-linejoin="miter" />
<line x1="1662.0" y1="1525.5" x2="1662.0" y2="1540.0" stroke="#000" stroke-width="2.0" />
<line x1="1690.6" y1="1540.0" x2="1690.6" y2="1555.0" stroke="#000" stroke-width="2.0" />
<polyline points="1693.9,1536.7 1705.1,1525.5 1719.2,1525.5" fill="none" stroke="#000" stroke-width="2.0" stroke-linejoin="miter" />
<line x1="1690.6" y1="1525.5" x2="1690.6" y2="1540.0" stroke="#000" stroke-width="2.0" />
<line x1="1719.2" y1="1540.0" x2="1719.2" y2="1555.0" stroke="#000" stroke-width="2.0" />
<polyline points="1722.5,1536.7 1733.7,1525.5 1747.9,1525.5" fill="none" stroke="#000" stroke-width="2.0" stroke-linejoin="miter" />
<line x1="1719.2" y1="1525.5" x2="1719.2" y2="1540.0" stroke="#000" stroke-width="2.0" />
<line x1="1747.9" y1="1540.0" x2="1747.9" y2="1555.0" stroke="#000" stroke-width="2.0" />
<polyline points="1751.2,1536.7 1762.4,1525.5 1776.5,1525.5" fill="none" stroke="#000" stroke-width="2.0" stroke-linejoin="miter" />
<line x1="1747.9" y1="1525.5" x2="1747.9" y2="1540.0" stroke="#000" stroke-width="2.0" />
<line x1="1776.5" y1="1540.0" x2="1776.5" y2="1555.0" stroke="#000" stroke-width="2.0" />
<polyline points="1779.8,1536.7 1791.0,1525.5 1805.1,1525.5" fill="none" stroke="#000" stroke-width="2.0" stroke-linejoin="miter" />
<line x1="1776.5" y1="1525.5" x2="1776.5" y2="1540.0" stroke="#000" stroke-width="2.0" />
<line x1="1805.1" y1="1540.0" x2="1805.1" y2="1555.0" stroke="#000" stroke-width="2.0" />
<polyline points="1808.4,1536.7 1819.6,1525.5 1833.8,1525.5" fill="none" stroke="#000" stroke-width="2.0" stroke-linejoin="miter" />
<line x1="1805.1" y1="1525.5" x2="1805.1" y2="1540.0" stroke="#000" stroke-width="2.0" />
<line x1="1833.8" y1="1540.0" x2="1833.8" y2="1555.0" stroke="#000" stroke-width="2.0" />
<polyline points="1837.0,1536.7 1848.2,1525.5 1862.4,1525.5" fill="none" stroke="#000" stroke-width="2.0" stroke-linejoin="miter" />
<line x1="1833.8" y1="1525.5" x2="1833.8" y2="1540.0" stroke="#000" stroke-width="2.0" />
<line x1="1862.4" y1="1540.0" x2="1862.4" y2="1555.0" stroke="#000" stroke-width="2.0" />
<polyline points="1865.7,1536.7 1876.9,1525.5 1891.0,1525.5" fill="none" stroke="#000" stroke-width="2.0" stroke-linejoin="miter" />
<line x1="1862.4" y1="1525.5" x2="1862.4" y2="1540.0" stroke="#000" stroke-width="2.0" />
<line x1="1891.0" y1="1540.0" x2="1891.0" y2="1555.0" stroke="#000" stroke-width="2.0" />
<polyline points="1894.3,1536.7 1905.5,1525.5 1919.6,1525.5" fill="none" stroke="#000" stroke-width="2.0" stroke-linejoin="miter" />
<line x1="1891.0" y1="1525.5" x2="1891.0" y2="1540.0" stroke="#000" stroke-width="2.0" />
<line x1="1919.6" y1="1540.0" x2="1919.6" y2="1555.0" stroke="#000" stroke-width="2.0" />
<polyline points="1922.9,1536.7 1934.1,1525.5 1948.3,1525.5" fill="none" stroke="#000" stroke-width="2.0" stroke-linejoin="miter" />
<line x1="1919.6" y1="1525.5" x2="1919.6" y2="1540.0" stroke="#000" stroke-width="2.0" />
<line x1="1948.3" y1="1540.0" x2="1948.3" y2="1555.0" stroke="#000" stroke-width="2.0" />
<polyline points="1951.6,1536.7 1962.8,1525.5 1976.9,1525.5" fill="none" stroke="#000" stroke-width="2.0" stroke-linejoin="miter" />
<line x1="1948.3" y1="1525.5" x2="1948.3" y2="1540.0" stroke="#000" stroke-width="2.0" />
<line x1="1976.9" y1="1540.0" x2="1976.9" y2="1555.0" stroke="#000" stroke-width="2.0" />
<polyline points="1980.2,1536.7 1991.4,1525.5 2006.7,1525.5" fill="none" stroke="#000" stroke-width="2.0" stroke-linejoin="miter" />
<line x1="1976.9" y1="1525.5" x2="1976.9" y2="1540.0" stroke="#000" stroke-width="2.0" />
<ellipse cx="1118.0" cy="1540.0" rx="4.56" ry="5.26" fill="#fff" stroke="#000" stroke-width="2.0"/>
<ellipse cx="1146.6" cy="1540.0" rx="4.56" ry="5.26" fill="#fff" stroke="#000" stroke-width="2.0"/>
<ellipse cx="1175.3" cy="1540.0" rx="4.56" ry="5.26" fill="#fff" stroke="#000" stroke-width="2.0"/>
<ellipse cx="1203.9" cy="1540.0" rx="4.56" ry="5.26" fill="#fff" stroke="#000" stroke-width="2.0"/>
<ellipse cx="1232.5" cy="1540.0" rx="4.56" ry="5.26" fill="#fff" stroke="#000" stroke-width="2.0"/>
<ellipse cx="1261.2" cy="1540.0" rx="4.56" ry="5.26" fill="#fff" stroke="#000" stroke-width="2.0"/>
<ellipse cx="1289.8" cy="1540.0" rx="4.56" ry="5.26" fill="#fff" stroke="#000" stroke-width="2.0"/>
<ellipse cx="1318.4" cy="1540.0" rx="4.56" ry="5.26" fill="#fff" stroke="#000" stroke-width="2.0"/>
<ellipse cx="1347.0" cy="1540.0" rx="4.56" ry="5.26" fill="#fff" stroke="#000" stroke-width="2.0"/>
<ellipse cx="1375.7" cy="1540.0" rx="4.56" ry="5.26" fill="#fff" stroke="#000" stroke-width="2.0"/>
<ellipse cx="1404.3" cy="1540.0" rx="4.56" ry="5.26" fill="#fff" stroke="#000" stroke-width="2.0"/>
<ellipse cx="1432.9" cy="1540.0" rx="4.56" ry="5.26" fill="#fff" stroke="#000" stroke-width="2.0"/>
<ellipse cx="1461.6" cy="1540.0" rx="4.56" ry="5.26" fill="#fff" stroke="#000" stroke-width="2.0"/>
<ellipse cx="1490.2" cy="1540.0" rx="4.56" ry="5.26" fill="#fff" stroke="#000" stroke-width="2.0"/>
<ellipse cx="1518.8" cy="1540.0" rx="4.56" ry="5.26" fill="#fff" stroke="#000" stroke-width="2.0"/>
<ellipse cx="1547.5" cy="1540.0" rx="4.56" ry="5.26" fill="#fff" stroke="#000" stroke-width="2.0"/>
<ellipse cx="1576.1" cy="1540.0" rx="4.56" ry="5.26" fill="#fff" stroke="#000" stroke-width="2.0"/>
<ellipse cx="1604.7" cy="1540.0" rx="4.56" ry="5.26" fill="#fff" stroke="#000" stroke-width="2.0"/>
<ellipse cx="1633.3" cy="1540.0" rx="4.56" ry="5.26" fill="#fff" stroke="#000" stroke-width="2.0"/>
<ellipse cx="1662.0" cy="1540.0" rx="4.56" ry="5.26" fill="#fff" stroke="#000" stroke-width="2.0"/>
<ellipse cx="1690.6" cy="1540.0" rx="4.56" ry="5.26" fill="#fff" stroke="#000" stroke-width="2.0"/>
<ellipse cx="1719.2" cy="1540.0" rx="4.56" ry="5.26" fill="#fff" stroke="#000" stroke-width="2.0"/>
<ellipse cx="1747.9" cy="1540.0" rx="4.56" ry="5.26" fill="#fff" stroke="#000" stroke-width="2.0"/>
<ellipse cx="1776.5" cy="1540.0" rx="4.56" ry="5.26" fill="#fff" stroke="#000" stroke-width="2.0"/>
<ellipse cx="1805.1" cy="1540.0" rx="4.56" ry="5.26" fill="#fff" stroke="#000" stroke-width="2.0"/>
<ellipse cx="1833.8" cy="1540.0" rx="4.56" ry="5.26" fill="#fff" stroke="#000" stroke-width="2.0"/>
<ellipse cx="1862.4" cy="1540.0" rx="4.56" ry="5.26" fill="#fff" stroke="#000" stroke-width="2.0"/>
<ellipse cx="1891.0" cy="1540.0" rx="4.56" ry="5.26" fill="#fff" stroke="#000" stroke-width="2.0"/>
<ellipse cx="1919.6" cy="1540.0" rx="4.56" ry="5.26" fill="#fff" stroke="#000" stroke-width="2.0"/>
<ellipse cx="1948.3" cy="1540.0" rx="4.56" ry="5.26" fill="#fff" stroke="#000" stroke-width="2.0"/>
<ellipse cx="1976.9" cy="1540.0" rx="4.56" ry="5.26" fill="#fff" stroke="#000" stroke-width="2.0"/>
<text transform="translate(1052.6,1577.6) scale(0.99,1)" font-size="23.40" text-anchor="end" class="s" >L1 busbar -návrat do domovního rozvaděče</text>
<circle cx="1061.4" cy="1571.0" r="5.3" fill="#000"/>
<text transform="translate(1052.6,1634.8) scale(0.99,1)" font-size="23.40" text-anchor="end" class="s" >K zabezpečení</text>
<circle cx="1061.4" cy="1630.7" r="5.3" fill="#000"/>
<text transform="translate(1052.6,1668.6) scale(0.99,1)" font-size="23.40" text-anchor="end" class="s" >Řízení podlahového topení</text>
<circle cx="1061.4" cy="1661.0" r="5.3" fill="#000"/>
<text transform="translate(1052.6,1698.6) scale(0.99,1)" font-size="23.40" text-anchor="end" class="s" >Napájení ECPC404</text>
<circle cx="1061.4" cy="1691.2" r="5.3" fill="#000"/>
<text transform="translate(1052.6,1727.1) scale(0.99,1)" font-size="23.40" text-anchor="end" class="s" >K podružnému rozvaděči</text>
<circle cx="1061.4" cy="1721.7" r="5.3" fill="#000"/>
<text transform="translate(1052.6,1757.4) scale(0.99,1)" font-size="23.40" text-anchor="end" class="s" >Zásuvka - pětipes u boileru</text>
<circle cx="1061.4" cy="1751.9" r="5.3" fill="#000"/>
<text transform="translate(1052.6,1787.6) scale(0.99,1)" font-size="23.40" text-anchor="end" class="s" >Venkovní zásuvka mezi mrazáky</text>
<circle cx="1061.4" cy="1782.4" r="5.3" fill="#000"/>
<text transform="translate(1052.6,1817.6) scale(0.99,1)" font-size="23.40" text-anchor="end" class="s" >Zásuvka - k osmipsu na parapetu</text>
<circle cx="1061.4" cy="1812.1" r="5.3" fill="#000"/>
<text transform="translate(1052.6,1846.7) scale(0.99,1)" font-size="23.40" text-anchor="end" class="s" >Zásuvka - pětipes vpravo</text>
<circle cx="1061.4" cy="1841.9" r="5.3" fill="#000"/>
<text transform="translate(1052.6,1877.6) scale(0.99,1)" font-size="23.40" text-anchor="end" class="s" >REZERVA</text>
<circle cx="1061.4" cy="1872.9" r="5.3" fill="#000"/>
<polyline points="1118.0,1545.0 1118.0,1571.0 1061.4,1571.0" fill="none" stroke="#000" stroke-width="2.0" stroke-linejoin="miter" />
<line x1="1203.9" y1="1545.0" x2="1203.9" y2="1588.6" stroke="#000" stroke-width="2.0" />
<rect x="1169.6" y="1588.6" width="69.8" height="23.4" stroke="#000" stroke-width="2.0" fill="#fff" />
<polyline points="1169.6,1588.6 1151.6,1575.2 1159.1,1566.3" fill="none" stroke="#000" stroke-width="2.0" stroke-linejoin="miter" />
<text transform="translate(1199.5,1608.0) scale(0.94,1)" font-size="24.53" text-anchor="middle" class="s" >3A</text>
<polyline points="1203.9,1612.0 1203.9,1630.7 1061.4,1630.7" fill="none" stroke="#000" stroke-width="2.0" stroke-linejoin="miter" />
<line x1="1318.4" y1="1545.0" x2="1318.4" y2="1618.4" stroke="#000" stroke-width="2.0" />
<rect x="1283.7" y="1618.4" width="69.7" height="24.6" stroke="#000" stroke-width="2.0" fill="#fff" />
<polyline points="1283.7,1618.4 1265.7,1605.0 1273.2,1596.1" fill="none" stroke="#000" stroke-width="2.0" stroke-linejoin="miter" />
<text transform="translate(1313.6,1639.0) scale(0.94,1)" font-size="24.53" text-anchor="middle" class="s" >1A</text>
<polyline points="1318.4,1643.0 1318.4,1661.0 1061.4,1661.0" fill="none" stroke="#000" stroke-width="2.0" stroke-linejoin="miter" />
<polyline points="1404.3,1545.0 1404.3,1691.2 1061.4,1691.2" fill="none" stroke="#000" stroke-width="2.0" stroke-linejoin="miter" />
<rect x="1398.1" y="1609.5" width="12.4" height="42.3" stroke="#000" stroke-width="2.0" fill="none" />
<text transform="translate(1408.5,1616.3) scale(0.94,1)" font-size="24.53" text-anchor="start" class="s" >? A</text>
<line x1="1518.8" y1="1545.0" x2="1518.8" y2="1618.4" stroke="#000" stroke-width="2.0" />
<rect x="1484.4" y="1618.4" width="69.8" height="24.6" stroke="#000" stroke-width="2.0" fill="#fff" />
<polyline points="1484.4,1618.4 1466.4,1605.0 1473.9,1596.1" fill="none" stroke="#000" stroke-width="2.0" stroke-linejoin="miter" />
<text transform="translate(1519.3,1639.0) scale(0.94,1)" font-size="24.53" text-anchor="middle" class="s" >25A</text>
<polyline points="1518.8,1643.0 1518.8,1721.7 1061.4,1721.7" fill="none" stroke="#000" stroke-width="2.0" stroke-linejoin="miter" />
<line x1="1633.3" y1="1545.0" x2="1633.3" y2="1601.4" stroke="#000" stroke-width="2.0" />
<line x1="1599.7" y1="1601.4" x2="1633.3" y2="1659.7" stroke="#000" stroke-width="2.0" />
<polyline points="1633.3,1659.7 1633.3,1751.9 1061.4,1751.9" fill="none" stroke="#000" stroke-width="2.0" stroke-linejoin="miter" />
<polyline points="1570.0,1639.9 1581.0,1633.3 1576.2,1619.0 1588.0,1613.1 1596.8,1624.9 1607.8,1618.4" fill="none" stroke="#000" stroke-width="2.0" stroke-linejoin="miter" />
<line x1="1614.0" y1="1630.0" x2="1574.4" y2="1653.5" stroke="#000" stroke-width="2.0" />
<polyline points="1585.4,1653.5 1574.4,1653.5 1581.4,1644.3" fill="none" stroke="#000" stroke-width="2.0" stroke-linejoin="miter" />
<line x1="1562.3" y1="1661.4" x2="1572.2" y2="1656.4" stroke="#000" stroke-width="2.0" />
<line x1="1570.0" y1="1651.3" x2="1573.3" y2="1660.0" stroke="#000" stroke-width="2.0" />
<text transform="translate(1620.2,1622.3) scale(0.94,1)" font-size="25.09" text-anchor="start" class="s" >16A</text>
<line x1="1719.2" y1="1545.0" x2="1719.2" y2="1601.4" stroke="#000" stroke-width="2.0" />
<line x1="1685.6" y1="1601.4" x2="1719.2" y2="1659.7" stroke="#000" stroke-width="2.0" />
<polyline points="1719.2,1659.7 1719.2,1782.4 1061.4,1782.4" fill="none" stroke="#000" stroke-width="2.0" stroke-linejoin="miter" />
<polyline points="1655.9,1639.9 1666.9,1633.3 1662.1,1619.0 1673.9,1613.1 1682.7,1624.9 1693.7,1618.4" fill="none" stroke="#000" stroke-width="2.0" stroke-linejoin="miter" />
<line x1="1699.9" y1="1630.0" x2="1660.3" y2="1653.5" stroke="#000" stroke-width="2.0" />
<polyline points="1671.3,1653.5 1660.3,1653.5 1667.3,1644.3" fill="none" stroke="#000" stroke-width="2.0" stroke-linejoin="miter" />
<line x1="1648.2" y1="1661.4" x2="1658.1" y2="1656.4" stroke="#000" stroke-width="2.0" />
<line x1="1655.9" y1="1651.3" x2="1659.2" y2="1660.0" stroke="#000" stroke-width="2.0" />
<text transform="translate(1706.1,1622.3) scale(0.94,1)" font-size="25.09" text-anchor="start" class="s" >16A</text>
<line x1="1805.1" y1="1545.0" x2="1805.1" y2="1601.4" stroke="#000" stroke-width="2.0" />
<line x1="1771.5" y1="1601.4" x2="1805.1" y2="1659.7" stroke="#000" stroke-width="2.0" />
<polyline points="1805.1,1659.7 1805.1,1812.1 1061.4,1812.1" fill="none" stroke="#000" stroke-width="2.0" stroke-linejoin="miter" />
<polyline points="1741.8,1639.9 1752.8,1633.3 1748.0,1619.0 1759.8,1613.1 1768.6,1624.9 1779.6,1618.4" fill="none" stroke="#000" stroke-width="2.0" stroke-linejoin="miter" />
<line x1="1785.8" y1="1630.0" x2="1746.2" y2="1653.5" stroke="#000" stroke-width="2.0" />
<polyline points="1757.2,1653.5 1746.2,1653.5 1753.2,1644.3" fill="none" stroke="#000" stroke-width="2.0" stroke-linejoin="miter" />
<line x1="1734.1" y1="1661.4" x2="1744.0" y2="1656.4" stroke="#000" stroke-width="2.0" />
<line x1="1741.8" y1="1651.3" x2="1745.1" y2="1660.0" stroke="#000" stroke-width="2.0" />
<text transform="translate(1792.0,1622.3) scale(0.94,1)" font-size="25.09" text-anchor="start" class="s" >16A</text>
<line x1="1891.0" y1="1545.0" x2="1891.0" y2="1601.4" stroke="#000" stroke-width="2.0" />
<line x1="1857.4" y1="1601.4" x2="1891.0" y2="1659.7" stroke="#000" stroke-width="2.0" />
<polyline points="1891.0,1659.7 1891.0,1841.9 1061.4,1841.9" fill="none" stroke="#000" stroke-width="2.0" stroke-linejoin="miter" />
<polyline points="1827.7,1639.9 1838.7,1633.3 1833.9,1619.0 1845.7,1613.1 1854.5,1624.9 1865.5,1618.4" fill="none" stroke="#000" stroke-width="2.0" stroke-linejoin="miter" />
<line x1="1871.7" y1="1630.0" x2="1832.1" y2="1653.5" stroke="#000" stroke-width="2.0" />
<polyline points="1843.1,1653.5 1832.1,1653.5 1839.1,1644.3" fill="none" stroke="#000" stroke-width="2.0" stroke-linejoin="miter" />
<line x1="1820.0" y1="1661.4" x2="1829.9" y2="1656.4" stroke="#000" stroke-width="2.0" />
<line x1="1827.7" y1="1651.3" x2="1831.0" y2="1660.0" stroke="#000" stroke-width="2.0" />
<text transform="translate(1877.9,1622.3) scale(0.94,1)" font-size="25.09" text-anchor="start" class="s" >16A</text>
<line x1="1976.9" y1="1545.0" x2="1976.9" y2="1601.4" stroke="#000" stroke-width="2.0" />
<line x1="1943.3" y1="1601.4" x2="1976.9" y2="1659.7" stroke="#000" stroke-width="2.0" />
<polyline points="1976.9,1659.7 1976.9,1872.9 1061.4,1872.9" fill="none" stroke="#000" stroke-width="2.0" stroke-linejoin="miter" />
<polyline points="1913.6,1639.9 1924.6,1633.3 1919.8,1619.0 1931.6,1613.1 1940.4,1624.9 1951.4,1618.4" fill="none" stroke="#000" stroke-width="2.0" stroke-linejoin="miter" />
<line x1="1957.6" y1="1630.0" x2="1918.0" y2="1653.5" stroke="#000" stroke-width="2.0" />
<polyline points="1929.0,1653.5 1918.0,1653.5 1925.0,1644.3" fill="none" stroke="#000" stroke-width="2.0" stroke-linejoin="miter" />
<line x1="1905.9" y1="1661.4" x2="1915.8" y2="1656.4" stroke="#000" stroke-width="2.0" />
<line x1="1913.6" y1="1651.3" x2="1916.9" y2="1660.0" stroke="#000" stroke-width="2.0" />
<text transform="translate(1963.8,1622.3) scale(0.94,1)" font-size="25.09" text-anchor="start" class="s" >16A</text>
<line x1="1.0" y1="1939.5" x2="2516.0" y2="1939.5" stroke="#b8284a" stroke-width="1.6" stroke-dasharray="3,3"/>
<g transform="translate(2200,40) scale(0.18083)">
<polygon points="430,230 505,215 525,250 545,1080 548,1580 495,1605 440,1590" fill="#d6d6d8"/>
<rect x="250" y="65" width="250" height="410" fill="#ececec"/>
<rect x="255" y="70" width="70" height="400" fill="#f6f6f6"/>
<rect x="300" y="110" width="110" height="180" fill="#e2e2e2"/>
<rect x="300" y="300" width="140" height="150" fill="#f3f3f3" stroke="#d8d8d8" stroke-width="6"/>
<rect x="190" y="470" width="240" height="215" fill="#f2f2f2"/>
<circle cx="250" cy="560" r="30" fill="#3c3a2c"/><circle cx="250" cy="560" r="12" fill="#a8a070"/>
<circle cx="360" cy="560" r="30" fill="#3c3a2c"/><circle cx="360" cy="560" r="12" fill="#a8a070"/>
<rect x="165" y="680" width="255" height="640" fill="#e9e9ea" stroke="#cfcfcf" stroke-width="6"/>
<rect x="192" y="790" width="183" height="355" fill="#5e5e5e"/>
<rect x="218" y="835" width="140" height="290" fill="#9c9c98"/>
<rect x="225" y="880" width="20" height="230" fill="#3a3a3a"/>
<rect x="270" y="900" width="70" height="30" fill="#505050"/><rect x="270" y="960" width="70" height="30" fill="#505050"/><rect x="270" y="1020" width="70" height="40" fill="#505050"/>
<circle cx="232" cy="1180" r="22" fill="#b8b8b8"/>
<rect x="265" y="1165" width="120" height="14" fill="#8a8a8a"/><rect x="265" y="1195" width="120" height="12" fill="#9a9a9a"/><rect x="200" y="1225" width="190" height="14" fill="#6a6a6a"/>
<rect x="205" y="1255" width="180" height="40" fill="#d0d0d0"/>
<rect x="210" y="1320" width="235" height="130" fill="#e4e4e6"/>
<circle cx="275" cy="1385" r="38" fill="#eeeeee" stroke="#c8c8c8" stroke-width="5"/><circle cx="385" cy="1385" r="38" fill="#eeeeee" stroke="#c8c8c8" stroke-width="5"/>
<rect x="250" y="1450" width="275" height="140" fill="#e2e2e4"/>
<rect x="290" y="1470" width="60" height="110" fill="#f4f4f4"/>
</g>
<g transform="translate(2100,350) scale(0.18376)">
<polygon points="600,760 1010,360 1010,900 940,960 700,1150 640,1170" fill="#e6e3df"/>
<line x1="760" y1="700" x2="760" y2="1100" stroke="#c9c6c2" stroke-width="8"/>
<line x1="610" y1="740" x2="610" y2="1160" stroke="#c0c4d0" stroke-width="6"/>
<polygon points="255,500 600,760 610,1160 540,1150 250,1000" fill="#ebe8e4"/>
<polygon points="270,760 600,1000 600,1130 250,1000 215,880" fill="#d6d2cd"/>
<polygon points="300,790 360,770 420,830 480,900 540,940 580,1010 420,960 300,900" fill="#c0bbb6"/>
<polygon points="135,1060 250,985 600,1150 610,1220 470,1370 140,1200" fill="#ece9e5"/>
<polygon points="135,1140 470,1300 470,1370 140,1200" fill="#d8d4cf"/>
<ellipse cx="360" cy="1110" rx="70" ry="38" transform="rotate(-35 360 1110)" fill="#bdb8b3"/>
<polygon points="255,470 660,95 1015,330 1015,365 570,750 540,745 255,515" fill="#cc1212"/>
<polygon points="300,470 660,140 970,330 560,690" fill="#d41a16"/>
<ellipse cx="540" cy="300" rx="38" ry="30" fill="#e23a30"/>
<ellipse cx="720" cy="260" rx="38" ry="30" fill="#e23a30"/>
<ellipse cx="820" cy="300" rx="38" ry="30" fill="#e23a30"/>
<ellipse cx="890" cy="350" rx="38" ry="30" fill="#e23a30"/>
<ellipse cx="700" cy="350" rx="38" ry="30" fill="#e23a30"/>
<ellipse cx="620" cy="420" rx="38" ry="30" fill="#e23a30"/>
<ellipse cx="760" cy="430" rx="38" ry="30" fill="#e23a30"/>
<ellipse cx="560" cy="480" rx="38" ry="30" fill="#e23a30"/>
<polygon points="1280,745 1610,470 1615,1000 1480,1080 1210,1280" fill="#e4e1dd"/>
<polygon points="1590,700 1705,760 1705,860 1590,960" fill="#ebe8e4"/>
<line x1="1490" y1="690" x2="1490" y2="1020" stroke="#c8c4c0" stroke-width="10"/>
<polygon points="880,540 1280,745 1280,1150 1210,1280 870,1120 860,870" fill="#ece9e6"/>
<polygon points="860,880 1220,1060 1220,1190 880,1060 840,960" fill="#d4d0cb"/>
<ellipse cx="950" cy="760" rx="32" ry="24" transform="rotate(35 950 760)" fill="#2a2422"/>
<ellipse cx="1030" cy="805" rx="32" ry="24" transform="rotate(35 1030 805)" fill="#2a2422"/>
<ellipse cx="1110" cy="850" rx="32" ry="24" transform="rotate(35 1110 850)" fill="#2a2422"/>
<ellipse cx="1190" cy="895" rx="32" ry="24" transform="rotate(35 1190 895)" fill="#2a2422"/>
<polygon points="720,1140 860,1050 1200,1245 1010,1450 720,1260" fill="#efece8"/>
<polygon points="720,1200 1000,1380 1010,1450 720,1270" fill="#d9d5d0"/>
<polygon points="750,1290 810,1240 1000,1375 1000,1440 950,1480 750,1360" fill="#f2c21e"/>
<polygon points="800,1300 840,1280 950,1360 930,1400" fill="#c89a10"/>
<polygon points="890,500 1210,245 1300,255 1560,370 1615,460 1340,710 1240,745 1030,630 890,545" fill="#cf1414"/>
<polygon points="940,520 1230,290 1540,420 1270,680" fill="#dc2018"/>
<ellipse cx="1010" cy="500" rx="36" ry="28" fill="#e23a30"/>
<ellipse cx="1100" cy="540" rx="36" ry="28" fill="#e23a30"/>
<ellipse cx="1170" cy="580" rx="36" ry="28" fill="#e23a30"/>
<ellipse cx="1250" cy="640" rx="36" ry="28" fill="#e23a30"/>
<ellipse cx="1140" cy="420" rx="36" ry="28" fill="#e23a30"/>
<ellipse cx="1250" cy="430" rx="36" ry="28" fill="#e23a30"/>
<ellipse cx="1350" cy="500" rx="36" ry="28" fill="#e23a30"/>
<g stroke="#222" stroke-width="6" fill="none">
<line x1="1790" y1="480" x2="1790" y2="920"/><line x1="1735" y1="460" x2="1850" y2="520"/><line x1="1735" y1="880" x2="1850" y2="940"/>
<line x1="1150" y1="1560" x2="1790" y2="910"/><line x1="1100" y1="1530" x2="1190" y2="1590"/>
<line x1="660" y1="1330" x2="1010" y2="1560"/><line x1="640" y1="1360" x2="680" y2="1300"/><line x1="990" y1="1590" x2="1030" y2="1530"/>
</g>
<g stroke="#c02020" stroke-width="5"><line x1="50" y1="735" x2="270" y2="735"/><line x1="270" y1="735" x2="300" y2="760"/><line x1="1300" y1="822" x2="1525" y2="822"/><line x1="1300" y1="822" x2="1220" y2="900"/><line x1="1300" y1="972" x2="1505" y2="972"/><line x1="1300" y1="972" x2="1220" y2="1050"/></g>
<text x="50" y="715" font-size="48" font-weight="bold" fill="#222" class="s">6-16mm²</text>
<text x="1300" y="805" font-size="48" fill="#222" class="s">2.5-16mm²</text>
<text x="1300" y="955" font-size="48" fill="#222" class="s">2.5-6mm²</text>
<text transform="translate(1885,930) rotate(-90)" font-size="62" fill="#222" class="s">High:  45.9mm</text>
<text transform="translate(1430,1390) rotate(-50)" font-size="62" fill="#222" class="s">Long:  69.2mm</text>
<text transform="translate(615,1420) rotate(35)" font-size="62" fill="#222" class="s">Wide:  29.5mm</text>
</g>
<g transform="translate(2040,650) scale(0.24298)">
<defs><linearGradient id="pebg" x1="0" y1="0" x2="0" y2="1"><stop offset="0" stop-color="#e9e9ec"/><stop offset="0.6" stop-color="#efeff1"/><stop offset="1" stop-color="#f3f3f5"/></linearGradient>
<linearGradient id="blu" x1="0" y1="0" x2="0" y2="1"><stop offset="0" stop-color="#6aaee6"/><stop offset="1" stop-color="#3a80c8"/></linearGradient></defs>
<rect x="75" y="50" width="1430" height="935" fill="url(#pebg)"/>
<polygon points="1290,300 1410,320 1420,640 1360,660 1290,640" fill="#d4d6dc"/>
<polygon points="560,650 1060,520 1360,555 1370,630 580,860" fill="#3574b8"/>
<polygon points="580,800 1360,600 1370,640 590,860" fill="#275c9a"/>
<polygon points="560,560 1350,350 1355,410 600,640 560,630" fill="#b59c6c"/>
<polygon points="600,610 1300,420 1300,470 610,660" fill="#3c3c44"/>
<ellipse cx="600" cy="575.0" rx="16" ry="30" fill="#2a2a30"/>
<ellipse cx="650" cy="561.5" rx="16" ry="30" fill="#2a2a30"/>
<ellipse cx="700" cy="548.0" rx="16" ry="30" fill="#2a2a30"/>
<ellipse cx="750" cy="534.5" rx="16" ry="30" fill="#2a2a30"/>
<ellipse cx="800" cy="521.0" rx="16" ry="30" fill="#2a2a30"/>
<ellipse cx="850" cy="507.5" rx="16" ry="30" fill="#2a2a30"/>
<ellipse cx="900" cy="494.0" rx="16" ry="30" fill="#2a2a30"/>
<ellipse cx="950" cy="480.5" rx="16" ry="30" fill="#2a2a30"/>
<ellipse cx="1000" cy="467.0" rx="16" ry="30" fill="#2a2a30"/>
<ellipse cx="1050" cy="453.5" rx="16" ry="30" fill="#2a2a30"/>
<ellipse cx="1100" cy="440.0" rx="16" ry="30" fill="#2a2a30"/>
<ellipse cx="1150" cy="426.5" rx="16" ry="30" fill="#2a2a30"/>
<ellipse cx="1200" cy="413.0" rx="16" ry="30" fill="#2a2a30"/>
<ellipse cx="1250" cy="399.5" rx="16" ry="30" fill="#2a2a30"/>
<ellipse cx="1300" cy="386.0" rx="16" ry="30" fill="#2a2a30"/>
<polygon points="360,365 1200,165 1330,180 1400,240 1412,320 1300,350 560,545 545,470 480,392" fill="url(#blu)"/>
<polygon points="290,372 420,365 505,400 555,470 562,545 575,885 540,905 310,795" fill="#f6f6f6"/>
<polygon points="320,740 560,820 560,880 330,790" fill="#dcdcdc"/>
<g stroke="#333" stroke-width="5" fill="none"><line x1="300" y1="370" x2="300" y2="790"/><line x1="280" y1="370" x2="355" y2="370"/><line x1="280" y1="785" x2="340" y2="785"/><line x1="310" y1="800" x2="535" y2="940"/><line x1="535" y1="940" x2="1415" y2="685"/><line x1="1415" y1="640" x2="1415" y2="695"/><line x1="535" y1="905" x2="535" y2="950"/></g>
<text x="110" y="565" font-size="46" fill="#222" class="s">51MM</text>
<text x="270" y="925" font-size="46" fill="#222" class="s">45MM</text>
<text x="1030" y="905" font-size="46" fill="#222" class="s">133MM</text>
</g>
<rect x="2108.8" y="928.7" width="287.7" height="26.7" fill="#c4e3ee"/>
<g stroke="#222" stroke-width="1.6" fill="none">
<rect x="2108.8" y="928.7" width="287.7" height="105.2"/>
<line x1="2108.8" y1="955.4" x2="2396.5" y2="955.4"/>
<line x1="2108.8" y1="981" x2="2396.5" y2="981"/>
<line x1="2108.8" y1="1007.2" x2="2396.5" y2="1007.2"/>
<line x1="2259.4" y1="928.7" x2="2259.4" y2="1033.9"/>
<line x1="2327.9" y1="955.4" x2="2327.9" y2="1033.9"/>
</g>
<text x="2184.1" y="947.5" font-size="13.4" text-anchor="middle" class="mono" fill="#222">215</text>
<text x="2327.9" y="947.5" font-size="13.4" text-anchor="middle" class="mono" fill="#222">2 Rows 15 Holes</text>
<text x="2293.7" y="974.2" font-size="13.4" text-anchor="middle" class="mono" fill="#222">Φ5.3</text>
<text x="2362.2" y="974.2" font-size="13.4" text-anchor="middle" class="mono" fill="#222">Φ7.5</text>
<text x="2184.1" y="999.8" font-size="13.4" text-anchor="middle" class="mono" fill="#222">Single-Strand Line</text>
<text x="2293.7" y="999.8" font-size="12.6" text-anchor="middle" class="mono" fill="#222">1.5-6MM²</text>
<text x="2362.2" y="999.8" font-size="12.6" text-anchor="middle" class="mono" fill="#222">6-16MM²</text>
<text x="2184.1" y="1026.0" font-size="13.4" text-anchor="middle" class="mono" fill="#222">Multi-Strand Line</text>
<text x="2293.7" y="1026.0" font-size="12.6" text-anchor="middle" class="mono" fill="#222">2.5-6MM²</text>
<text x="2362.2" y="1026.0" font-size="12.6" text-anchor="middle" class="mono" fill="#222">10-25MM²</text>
<g transform="translate(2060,1060) scale(0.27270)">
<defs><linearGradient id="lcd" x1="0" y1="0" x2="0" y2="1"><stop offset="0" stop-color="#52b8f4"/><stop offset="0.5" stop-color="#7ccdfb"/><stop offset="1" stop-color="#48b0f0"/></linearGradient></defs>
<rect x="90" y="28" width="420" height="105" fill="#e3161a"/>
<text x="95" y="108" font-size="80" font-weight="bold" fill="#fff" class="ser" textLength="410" lengthAdjust="spacingAndGlyphs">DDS9588-B</text>
<rect x="215" y="185" width="615" height="1360" fill="#f1f1f2" stroke="#d8d8da" stroke-width="6"/>
<rect x="235" y="195" width="575" height="300" fill="#ebebec"/>
<rect x="220" y="495" width="612" height="20" fill="#dcdcde"/>
<rect x="235" y="1300" width="575" height="240" fill="#ebebec"/>
<rect x="220" y="1285" width="612" height="20" fill="#dcdcde"/>
<circle cx="345" cy="320" r="56" fill="#8e949c" stroke="#6a7078" stroke-width="6"/>
<circle cx="345" cy="320" r="36" fill="#b4bac2"/>
<path d="M310,320 h70 M345,285 v70" stroke="#5a6068" stroke-width="10"/>
<circle cx="690" cy="320" r="56" fill="#8e949c" stroke="#6a7078" stroke-width="6"/>
<circle cx="690" cy="320" r="36" fill="#b4bac2"/>
<path d="M655,320 h70 M690,285 v70" stroke="#5a6068" stroke-width="10"/>
<circle cx="345" cy="1415" r="56" fill="#8e949c" stroke="#6a7078" stroke-width="6"/>
<circle cx="345" cy="1415" r="36" fill="#b4bac2"/>
<path d="M310,1415 h70 M345,1380 v70" stroke="#5a6068" stroke-width="10"/>
<circle cx="690" cy="1415" r="56" fill="#8e949c" stroke="#6a7078" stroke-width="6"/>
<circle cx="690" cy="1415" r="36" fill="#b4bac2"/>
<path d="M655,1415 h70 M690,1380 v70" stroke="#5a6068" stroke-width="10"/>
<rect x="255" y="540" width="535" height="710" fill="#e2e2e4" stroke="#c8c8ca" stroke-width="4"/>
<text x="262" y="588" font-size="36" fill="#333" class="s" textLength="510" lengthAdjust="spacingAndGlyphs">1PHASE 2WIRE ENERGY METER</text>
<rect x="262" y="603" width="513" height="342" fill="#1c1c1c"/>
<rect x="274" y="615" width="489" height="318" fill="url(#lcd)"/>
<text x="615" y="712" font-size="58" fill="#111" class="s">kWh</text>
<text x="428" y="885" font-size="150" fill="#111" stroke="#111" stroke-width="3" class="s" textLength="310" lengthAdjust="spacingAndGlyphs">661.9</text>
<text x="275" y="995" font-size="32" fill="#666" class="s" textLength="480" lengthAdjust="spacingAndGlyphs">DDS9588  230V  5(80)A  50Hz</text>
<text x="275" y="1048" font-size="32" fill="#555" class="s">IEC62053-21</text>
<text x="530" y="1048" font-size="34" fill="#555" class="s">CE</text>
<path d="M608,1018 v28 M600,1046 h16" stroke="#555" stroke-width="4" fill="none"/>
<rect x="642" y="1020" width="34" height="28" fill="none" stroke="#555" stroke-width="4"/><line x1="659" y1="1020" x2="659" y2="1048" stroke="#555" stroke-width="4"/>
<circle cx="730" cy="1034" r="16" fill="none" stroke="#555" stroke-width="4"/><line x1="730" y1="1024" x2="730" y2="1044" stroke="#555" stroke-width="4"/>
<text x="275" y="1145" font-size="22" fill="#555" class="s">1000imp/kWh</text>
<circle cx="478" cy="1130" r="30" fill="#3a3a3a"/>
<text x="518" y="1140" font-size="26" fill="#555" class="s">PULSE</text>
<circle cx="662" cy="1128" r="52" fill="#f07a3c" stroke="#d85a20" stroke-width="4"/>
<text x="840" y="160" font-size="50" font-weight="bold" font-style="italic" fill="#111" class="ser" stroke="#111" stroke-width="2.5" textLength="265" lengthAdjust="spacingAndGlyphs">Total kWh</text>
<text x="840" y="245" font-size="50" font-weight="bold" font-style="italic" fill="#111" class="ser" stroke="#111" stroke-width="2.5" textLength="280" lengthAdjust="spacingAndGlyphs">Can not be</text>
<text x="838" y="325" font-size="50" font-weight="bold" font-style="italic" fill="#d01818" class="ser" stroke="#d01818" stroke-width="2.5" textLength="160" lengthAdjust="spacingAndGlyphs">Reset.</text>
<text x="830" y="675" font-size="50" font-weight="bold" font-style="italic" fill="#111" class="ser" stroke="#111" stroke-width="2.5" textLength="280" lengthAdjust="spacingAndGlyphs">Temporary</text>
<text x="830" y="760" font-size="50" font-weight="bold" font-style="italic" fill="#111" class="ser" stroke="#111" stroke-width="2.5" textLength="295" lengthAdjust="spacingAndGlyphs">Energy Can</text>
<text x="830" y="840" font-size="50" font-weight="bold" font-style="italic" class="ser" stroke-width="2.5"><tspan fill="#111" stroke="#111">be </tspan><tspan fill="#d01818" stroke="#d01818">Reset.</tspan></text>
<text x="850" y="1080" font-size="50" font-weight="bold" class="ser" textLength="245" lengthAdjust="spacingAndGlyphs"><tspan fill="#9a4ab0">With </tspan><tspan fill="#2aa0d8">Blue</tspan></text>
<text x="850" y="1160" font-size="50" font-weight="bold" class="ser" fill="#2aa0d8" textLength="240" lengthAdjust="spacingAndGlyphs">Backlight</text>
<circle cx="930" cy="1355" r="50" fill="#2a56d8"/><circle cx="930" cy="1355" r="30" fill="#3a66e8"/>
<circle cx="1055" cy="1355" r="50" fill="#2a56d8"/><circle cx="1055" cy="1355" r="30" fill="#3a66e8"/>
<circle cx="930" cy="1485" r="50" fill="#2a56d8"/><circle cx="930" cy="1485" r="30" fill="#3a66e8"/>
<circle cx="1055" cy="1485" r="50" fill="#2a56d8"/><circle cx="1055" cy="1485" r="30" fill="#3a66e8"/>
<rect x="1155" y="85" width="425" height="290" fill="#1c1c1c"/>
<rect x="1168" y="98" width="399" height="264" fill="url(#lcd)"/>
<text x="1540" y="185" font-size="50" fill="#111" class="s" text-anchor="end">kWh</text>
<text x="1545" y="330" font-size="120" fill="#111" stroke="#111" stroke-width="2" class="s" text-anchor="end">661.9</text>
<rect x="1155" y="390" width="425" height="287" fill="#1c1c1c"/>
<rect x="1168" y="403" width="399" height="261" fill="url(#lcd)"/>
<text x="1540" y="490" font-size="50" fill="#111" class="s" text-anchor="end">kWh</text>
<text x="1545" y="632" font-size="120" fill="#111" stroke="#111" stroke-width="2" class="s" text-anchor="end">F    0.0</text>
<rect x="1155" y="697" width="425" height="288" fill="#1c1c1c"/>
<rect x="1168" y="710" width="399" height="262" fill="url(#lcd)"/>
<text x="1180" y="797" font-size="50" fill="#111" class="s">U<tspan font-size="28">(V)</tspan></text>
<text x="1545" y="940" font-size="120" fill="#111" stroke="#111" stroke-width="2" class="s" text-anchor="end">230.0</text>
<rect x="1155" y="1005" width="425" height="290" fill="#1c1c1c"/>
<rect x="1168" y="1018" width="399" height="264" fill="url(#lcd)"/>
<text x="1260" y="1115" font-size="50" fill="#111" class="s">I<tspan font-size="28">(A)</tspan></text>
<text x="1545" y="1250" font-size="120" fill="#111" stroke="#111" stroke-width="2" class="s" text-anchor="end">2.5</text>
<rect x="1155" y="1315" width="425" height="290" fill="#1c1c1c"/>
<rect x="1168" y="1328" width="399" height="264" fill="url(#lcd)"/>
<text x="1400" y="1420" font-size="50" fill="#111" class="s">P<tspan font-size="28">(W)</tspan></text>
<text x="1545" y="1560" font-size="120" fill="#111" stroke="#111" stroke-width="2" class="s" text-anchor="end">575.0</text>
</g>
<g transform="translate(2200,1540) scale(0.23941)">
<polygon points="720,940 1200,290 1198,870 1135,950 1090,950 855,1240 850,1340 710,1500" fill="#88888e"/>
<polygon points="1000,960 1080,850 1080,920 1000,1030" fill="#3a3a3e"/><polygon points="830,1170 910,1070 910,1140 830,1240" fill="#3a3a3e"/><polygon points="720,1400 850,1240 850,1330 720,1490" fill="#4a4a50"/>
<polygon points="930,1010 985,960 985,1060 930,1100" fill="#c8c040"/>
<polygon points="395,820 720,945 712,1500 395,1380" fill="#6c6c72"/>
<polygon points="435,840 690,950 685,1200 435,1090" fill="#d2cac2"/>
<polygon points="435,840 500,860 500,1110 435,1090" fill="#5a5a60"/>
<ellipse cx="565" cy="975" rx="38" ry="36" fill="#3c3232"/>
<ellipse cx="652" cy="1012" rx="38" ry="36" fill="#3c3232"/>
<ellipse cx="562" cy="1068" rx="38" ry="36" fill="#3c3232"/>
<ellipse cx="645" cy="1105" rx="38" ry="36" fill="#3c3232"/>
<polygon points="440,1100 670,1195 670,1360 440,1270" fill="#505056"/>
<polygon points="440,1320 490,1315 635,1385 625,1425 440,1375" fill="#f0f0f2"/>
<polygon points="400,720 890,180 1200,280 1198,335 720,940 400,820" fill="#a9a9b0"/>
<polygon points="450,750 885,235 1160,320 730,870" fill="#7e7e86"/>
<polygon points="500,760 860,330 1000,380 930,520 760,700 700,830" fill="#4e4e56"/>
<polygon points="850,330 880,330 880,600 850,640" fill="#2a2a32"/>
<polygon points="880,560 990,440 990,520 880,650" fill="#8a8a72"/>
<polygon points="930,210 1150,290 1050,410 940,380" fill="#d8d8dc"/>
<polygon points="400,720 720,840 720,940 400,820" fill="#d8d8dc"/>
<polygon points="460,800 700,890 700,930 460,840" fill="#b8b8be"/>
</g>
</svg>
</body></html>
